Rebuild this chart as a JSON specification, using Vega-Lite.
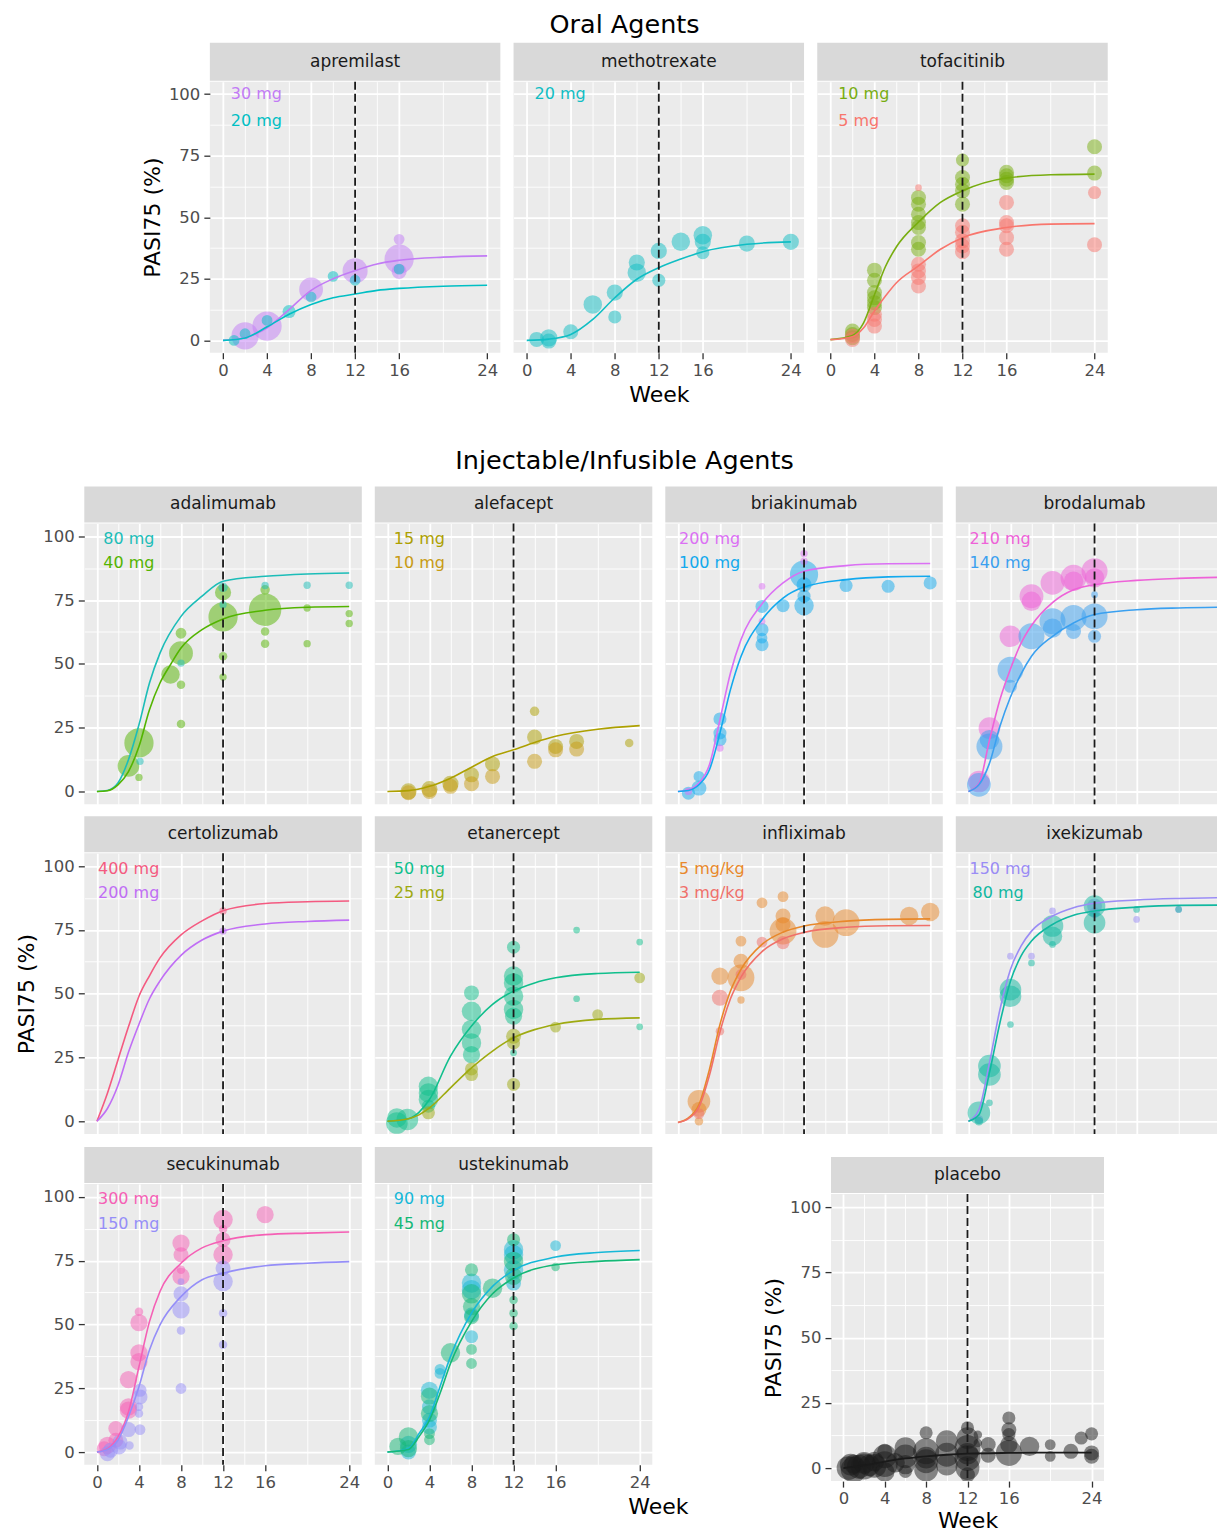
{
"$schema":"https://vega.github.io/schema/vega-lite/v6.json",
"background":"white",
"autosize":{"type":"pad"},
"padding":{"left":15.3,"top":12.7,"right":0,"bottom":0},
"config":{
 "font":"DejaVu Sans",
 "view":{"fill":"#EBEBEB","stroke":null},
 "axis":{"domain":false,"gridColor":"#FFFFFF","tickColor":"#333333","tickSize":6,"tickWidth":1.3,"labelColor":"#4D4D4D","labelFontSize":16.5,"labelFont":"DejaVu Sans","labelPadding":3,"titleFont":"DejaVu Sans","titleFontSize":22,"titleFontWeight":"normal","titleColor":"#000000","titlePadding":4},
 "axisX":{"labelPadding":3.5,"titlePadding":6},
 "axisY":{"labelPadding":4,"titlePadding":4},
 "legend":{"disable":true},
 "title":{"font":"DejaVu Sans","fontSize":25.5,"fontWeight":"normal","color":"#000000","anchor":"middle","offset":8},
 "range":{"category":["#53B400","#1CBDB8","#C89B14","#ADA000","#00BFC4","#C27BF5","#12A9EE","#DB70F4","#3AA0F0","#EE62D8","#C06EF5","#F45A80","#9EAA10","#10BF8C","#F0706A","#E8882A","#9A8CF5","#10B8A0","#10BEC4","#1A1A1A","#958EF8","#F560B5","#78AD10","#F8766D","#14B876","#16B8D8"]}
},
"datasets":{
"pts":[
{"d":"apremilast","g":"apremilast 30 mg","w":2,"p":1.8,"n":82},
{"d":"apremilast","g":"apremilast 30 mg","w":4,"p":5.8,"n":95},
{"d":"apremilast","g":"apremilast 30 mg","w":8,"p":20.7,"n":63},
{"d":"apremilast","g":"apremilast 30 mg","w":12,"p":28.2,"n":70},
{"d":"apremilast","g":"apremilast 30 mg","w":16,"p":33,"n":95},
{"d":"apremilast","g":"apremilast 30 mg","w":16,"p":41,"n":13},
{"d":"apremilast","g":"apremilast 30 mg","w":16,"p":28,"n":25},
{"d":"apremilast","g":"apremilast 20 mg","w":1,"p":0,"n":13},
{"d":"apremilast","g":"apremilast 20 mg","w":2,"p":2.7,"n":13},
{"d":"apremilast","g":"apremilast 20 mg","w":4,"p":8.1,"n":13},
{"d":"apremilast","g":"apremilast 20 mg","w":6,"p":11.7,"n":19},
{"d":"apremilast","g":"apremilast 20 mg","w":8,"p":17.6,"n":13},
{"d":"apremilast","g":"apremilast 20 mg","w":10,"p":26,"n":13},
{"d":"apremilast","g":"apremilast 20 mg","w":12,"p":24.4,"n":13},
{"d":"apremilast","g":"apremilast 20 mg","w":16,"p":28.9,"n":13},
{"d":"methotrexate","g":"methotrexate 20 mg","w":0.9,"p":0.4,"n":25},
{"d":"methotrexate","g":"methotrexate 20 mg","w":2,"p":1,"n":33},
{"d":"methotrexate","g":"methotrexate 20 mg","w":2,"p":-0.3,"n":25},
{"d":"methotrexate","g":"methotrexate 20 mg","w":4,"p":3.5,"n":25},
{"d":"methotrexate","g":"methotrexate 20 mg","w":6,"p":14.6,"n":38},
{"d":"methotrexate","g":"methotrexate 20 mg","w":8,"p":19.4,"n":29},
{"d":"methotrexate","g":"methotrexate 20 mg","w":8,"p":9.5,"n":19},
{"d":"methotrexate","g":"methotrexate 20 mg","w":10,"p":31.6,"n":29},
{"d":"methotrexate","g":"methotrexate 20 mg","w":10,"p":27.5,"n":38},
{"d":"methotrexate","g":"methotrexate 20 mg","w":12,"p":36.3,"n":29},
{"d":"methotrexate","g":"methotrexate 20 mg","w":12,"p":24.4,"n":19},
{"d":"methotrexate","g":"methotrexate 20 mg","w":14,"p":40,"n":38},
{"d":"methotrexate","g":"methotrexate 20 mg","w":16,"p":42.7,"n":38},
{"d":"methotrexate","g":"methotrexate 20 mg","w":16,"p":40,"n":29},
{"d":"methotrexate","g":"methotrexate 20 mg","w":16,"p":35.6,"n":19},
{"d":"methotrexate","g":"methotrexate 20 mg","w":20,"p":39.3,"n":29},
{"d":"methotrexate","g":"methotrexate 20 mg","w":24,"p":40,"n":29},
{"d":"tofacitinib","g":"tofacitinib 10 mg","w":2,"p":2.4,"n":25},
{"d":"tofacitinib","g":"tofacitinib 10 mg","w":2,"p":3.8,"n":25},
{"d":"tofacitinib","g":"tofacitinib 10 mg","w":2,"p":1.1,"n":25},
{"d":"tofacitinib","g":"tofacitinib 10 mg","w":4,"p":28.5,"n":25},
{"d":"tofacitinib","g":"tofacitinib 10 mg","w":4,"p":24.4,"n":25},
{"d":"tofacitinib","g":"tofacitinib 10 mg","w":4,"p":19.4,"n":25},
{"d":"tofacitinib","g":"tofacitinib 10 mg","w":4,"p":17.3,"n":25},
{"d":"tofacitinib","g":"tofacitinib 10 mg","w":4,"p":15.3,"n":25},
{"d":"tofacitinib","g":"tofacitinib 10 mg","w":4,"p":13.3,"n":25},
{"d":"tofacitinib","g":"tofacitinib 10 mg","w":8,"p":58,"n":25},
{"d":"tofacitinib","g":"tofacitinib 10 mg","w":8,"p":55.3,"n":25},
{"d":"tofacitinib","g":"tofacitinib 10 mg","w":8,"p":51.2,"n":25},
{"d":"tofacitinib","g":"tofacitinib 10 mg","w":8,"p":47.8,"n":25},
{"d":"tofacitinib","g":"tofacitinib 10 mg","w":8,"p":45.8,"n":25},
{"d":"tofacitinib","g":"tofacitinib 10 mg","w":8,"p":39.7,"n":25},
{"d":"tofacitinib","g":"tofacitinib 10 mg","w":8,"p":37,"n":25},
{"d":"tofacitinib","g":"tofacitinib 10 mg","w":12,"p":73.2,"n":19},
{"d":"tofacitinib","g":"tofacitinib 10 mg","w":12,"p":66.1,"n":25},
{"d":"tofacitinib","g":"tofacitinib 10 mg","w":12,"p":63.4,"n":25},
{"d":"tofacitinib","g":"tofacitinib 10 mg","w":12,"p":60.7,"n":25},
{"d":"tofacitinib","g":"tofacitinib 10 mg","w":12,"p":55.3,"n":25},
{"d":"tofacitinib","g":"tofacitinib 10 mg","w":16,"p":68.2,"n":25},
{"d":"tofacitinib","g":"tofacitinib 10 mg","w":16,"p":66.8,"n":25},
{"d":"tofacitinib","g":"tofacitinib 10 mg","w":16,"p":65.4,"n":25},
{"d":"tofacitinib","g":"tofacitinib 10 mg","w":16,"p":64.1,"n":25},
{"d":"tofacitinib","g":"tofacitinib 10 mg","w":24,"p":78.6,"n":25},
{"d":"tofacitinib","g":"tofacitinib 10 mg","w":24,"p":67.9,"n":25},
{"d":"tofacitinib","g":"tofacitinib 5 mg","w":2,"p":1.8,"n":25},
{"d":"tofacitinib","g":"tofacitinib 5 mg","w":2,"p":0.4,"n":25},
{"d":"tofacitinib","g":"tofacitinib 5 mg","w":4,"p":10.6,"n":25},
{"d":"tofacitinib","g":"tofacitinib 5 mg","w":4,"p":8.5,"n":25},
{"d":"tofacitinib","g":"tofacitinib 5 mg","w":4,"p":5.8,"n":25},
{"d":"tofacitinib","g":"tofacitinib 5 mg","w":8,"p":62,"n":5},
{"d":"tofacitinib","g":"tofacitinib 5 mg","w":8,"p":30.9,"n":25},
{"d":"tofacitinib","g":"tofacitinib 5 mg","w":8,"p":28.2,"n":25},
{"d":"tofacitinib","g":"tofacitinib 5 mg","w":8,"p":25.5,"n":25},
{"d":"tofacitinib","g":"tofacitinib 5 mg","w":8,"p":22.1,"n":25},
{"d":"tofacitinib","g":"tofacitinib 5 mg","w":12,"p":46.5,"n":25},
{"d":"tofacitinib","g":"tofacitinib 5 mg","w":12,"p":43.9,"n":25},
{"d":"tofacitinib","g":"tofacitinib 5 mg","w":12,"p":40.4,"n":25},
{"d":"tofacitinib","g":"tofacitinib 5 mg","w":12,"p":38.3,"n":25},
{"d":"tofacitinib","g":"tofacitinib 5 mg","w":12,"p":36,"n":25},
{"d":"tofacitinib","g":"tofacitinib 5 mg","w":16,"p":56,"n":25},
{"d":"tofacitinib","g":"tofacitinib 5 mg","w":16,"p":47.8,"n":25},
{"d":"tofacitinib","g":"tofacitinib 5 mg","w":16,"p":46.5,"n":25},
{"d":"tofacitinib","g":"tofacitinib 5 mg","w":16,"p":41.7,"n":25},
{"d":"tofacitinib","g":"tofacitinib 5 mg","w":16,"p":37,"n":25},
{"d":"tofacitinib","g":"tofacitinib 5 mg","w":24,"p":60,"n":19},
{"d":"tofacitinib","g":"tofacitinib 5 mg","w":24,"p":38.8,"n":25},
{"d":"adalimumab","g":"adalimumab 40 mg","w":3,"p":10,"n":52},
{"d":"adalimumab","g":"adalimumab 40 mg","w":4,"p":19,"n":95},
{"d":"adalimumab","g":"adalimumab 40 mg","w":4,"p":5.5,"n":6},
{"d":"adalimumab","g":"adalimumab 40 mg","w":7,"p":45.8,"n":38},
{"d":"adalimumab","g":"adalimumab 40 mg","w":8,"p":54.2,"n":63},
{"d":"adalimumab","g":"adalimumab 40 mg","w":8,"p":62,"n":13},
{"d":"adalimumab","g":"adalimumab 40 mg","w":8,"p":41.8,"n":8},
{"d":"adalimumab","g":"adalimumab 40 mg","w":8,"p":26.4,"n":8},
{"d":"adalimumab","g":"adalimumab 40 mg","w":12,"p":78,"n":29},
{"d":"adalimumab","g":"adalimumab 40 mg","w":12,"p":68.4,"n":95},
{"d":"adalimumab","g":"adalimumab 40 mg","w":12,"p":53,"n":8},
{"d":"adalimumab","g":"adalimumab 40 mg","w":12,"p":44.8,"n":6},
{"d":"adalimumab","g":"adalimumab 40 mg","w":16,"p":71.2,"n":117},
{"d":"adalimumab","g":"adalimumab 40 mg","w":16,"p":79,"n":10},
{"d":"adalimumab","g":"adalimumab 40 mg","w":16,"p":62.7,"n":8},
{"d":"adalimumab","g":"adalimumab 40 mg","w":16,"p":57.9,"n":8},
{"d":"adalimumab","g":"adalimumab 40 mg","w":20,"p":71.9,"n":6},
{"d":"adalimumab","g":"adalimumab 40 mg","w":20,"p":57.9,"n":6},
{"d":"adalimumab","g":"adalimumab 40 mg","w":24,"p":69.7,"n":6},
{"d":"adalimumab","g":"adalimumab 40 mg","w":24,"p":65.8,"n":6},
{"d":"adalimumab","g":"adalimumab 80 mg","w":4.1,"p":11.8,"n":6},
{"d":"adalimumab","g":"adalimumab 80 mg","w":8,"p":50.3,"n":6},
{"d":"adalimumab","g":"adalimumab 80 mg","w":12,"p":80,"n":10},
{"d":"adalimumab","g":"adalimumab 80 mg","w":12,"p":73.2,"n":6},
{"d":"adalimumab","g":"adalimumab 80 mg","w":16,"p":80.7,"n":6},
{"d":"adalimumab","g":"adalimumab 80 mg","w":20,"p":80.8,"n":6},
{"d":"adalimumab","g":"adalimumab 80 mg","w":24,"p":80.8,"n":6},
{"d":"alefacept","g":"alefacept 15 mg","w":2,"p":0,"n":29},
{"d":"alefacept","g":"alefacept 15 mg","w":4,"p":0.9,"n":29},
{"d":"alefacept","g":"alefacept 15 mg","w":6,"p":3,"n":29},
{"d":"alefacept","g":"alefacept 15 mg","w":8,"p":6.5,"n":25},
{"d":"alefacept","g":"alefacept 15 mg","w":10,"p":10.8,"n":25},
{"d":"alefacept","g":"alefacept 15 mg","w":14,"p":31.4,"n":10},
{"d":"alefacept","g":"alefacept 15 mg","w":14,"p":21.3,"n":25},
{"d":"alefacept","g":"alefacept 15 mg","w":16,"p":17.6,"n":25},
{"d":"alefacept","g":"alefacept 15 mg","w":18,"p":19.6,"n":25},
{"d":"alefacept","g":"alefacept 15 mg","w":23,"p":19,"n":8},
{"d":"alefacept","g":"alefacept 10 mg","w":2,"p":-0.5,"n":25},
{"d":"alefacept","g":"alefacept 10 mg","w":4,"p":0,"n":25},
{"d":"alefacept","g":"alefacept 10 mg","w":6,"p":2,"n":25},
{"d":"alefacept","g":"alefacept 10 mg","w":8,"p":3,"n":25},
{"d":"alefacept","g":"alefacept 10 mg","w":10,"p":5.9,"n":25},
{"d":"alefacept","g":"alefacept 10 mg","w":14,"p":11.8,"n":25},
{"d":"alefacept","g":"alefacept 10 mg","w":16,"p":16.3,"n":25},
{"d":"alefacept","g":"alefacept 10 mg","w":18,"p":16.6,"n":25},
{"d":"briakinumab","g":"briakinumab 100 mg","w":1,"p":-0.7,"n":19},
{"d":"briakinumab","g":"briakinumab 100 mg","w":2,"p":1.3,"n":25},
{"d":"briakinumab","g":"briakinumab 100 mg","w":2,"p":5.9,"n":13},
{"d":"briakinumab","g":"briakinumab 100 mg","w":4,"p":28.4,"n":19},
{"d":"briakinumab","g":"briakinumab 100 mg","w":4,"p":22.9,"n":19},
{"d":"briakinumab","g":"briakinumab 100 mg","w":4,"p":20.3,"n":19},
{"d":"briakinumab","g":"briakinumab 100 mg","w":8,"p":72.5,"n":19},
{"d":"briakinumab","g":"briakinumab 100 mg","w":8,"p":63.4,"n":19},
{"d":"briakinumab","g":"briakinumab 100 mg","w":8,"p":60.1,"n":13},
{"d":"briakinumab","g":"briakinumab 100 mg","w":8,"p":57.5,"n":19},
{"d":"briakinumab","g":"briakinumab 100 mg","w":10,"p":72.8,"n":19},
{"d":"briakinumab","g":"briakinumab 100 mg","w":12,"p":85,"n":88},
{"d":"briakinumab","g":"briakinumab 100 mg","w":12,"p":81,"n":25},
{"d":"briakinumab","g":"briakinumab 100 mg","w":12,"p":76.5,"n":19},
{"d":"briakinumab","g":"briakinumab 100 mg","w":12,"p":72.8,"n":42},
{"d":"briakinumab","g":"briakinumab 100 mg","w":16,"p":80.7,"n":19},
{"d":"briakinumab","g":"briakinumab 100 mg","w":20,"p":80.4,"n":19},
{"d":"briakinumab","g":"briakinumab 100 mg","w":24,"p":81.7,"n":19},
{"d":"briakinumab","g":"briakinumab 200 mg","w":1,"p":0,"n":6},
{"d":"briakinumab","g":"briakinumab 200 mg","w":4,"p":17,"n":6},
{"d":"briakinumab","g":"briakinumab 200 mg","w":8,"p":80.4,"n":5},
{"d":"briakinumab","g":"briakinumab 200 mg","w":8,"p":66.7,"n":5},
{"d":"briakinumab","g":"briakinumab 200 mg","w":12,"p":93.2,"n":6},
{"d":"briakinumab","g":"briakinumab 200 mg","w":12,"p":90.2,"n":6},
{"d":"brodalumab","g":"brodalumab 210 mg","w":1,"p":3.9,"n":52},
{"d":"brodalumab","g":"brodalumab 210 mg","w":2,"p":24.8,"n":52},
{"d":"brodalumab","g":"brodalumab 210 mg","w":4,"p":60.8,"n":52},
{"d":"brodalumab","g":"brodalumab 210 mg","w":6,"p":76.5,"n":63},
{"d":"brodalumab","g":"brodalumab 210 mg","w":6,"p":74.5,"n":42},
{"d":"brodalumab","g":"brodalumab 210 mg","w":8,"p":81.7,"n":63},
{"d":"brodalumab","g":"brodalumab 210 mg","w":10,"p":83.7,"n":75},
{"d":"brodalumab","g":"brodalumab 210 mg","w":10,"p":82.4,"n":42},
{"d":"brodalumab","g":"brodalumab 210 mg","w":12,"p":86.3,"n":75},
{"d":"brodalumab","g":"brodalumab 210 mg","w":12,"p":83.7,"n":42},
{"d":"brodalumab","g":"brodalumab 140 mg","w":1,"p":2.6,"n":63},
{"d":"brodalumab","g":"brodalumab 140 mg","w":2,"p":17.6,"n":75},
{"d":"brodalumab","g":"brodalumab 140 mg","w":2,"p":20.3,"n":42},
{"d":"brodalumab","g":"brodalumab 140 mg","w":4,"p":47.7,"n":75},
{"d":"brodalumab","g":"brodalumab 140 mg","w":4,"p":41.2,"n":19},
{"d":"brodalumab","g":"brodalumab 140 mg","w":6,"p":60.8,"n":75},
{"d":"brodalumab","g":"brodalumab 140 mg","w":8,"p":66.7,"n":75},
{"d":"brodalumab","g":"brodalumab 140 mg","w":8,"p":64,"n":42},
{"d":"brodalumab","g":"brodalumab 140 mg","w":10,"p":68,"n":75},
{"d":"brodalumab","g":"brodalumab 140 mg","w":10,"p":62.7,"n":25},
{"d":"brodalumab","g":"brodalumab 140 mg","w":12,"p":68.6,"n":75},
{"d":"brodalumab","g":"brodalumab 140 mg","w":12,"p":77.1,"n":5},
{"d":"brodalumab","g":"brodalumab 140 mg","w":12,"p":60.8,"n":19},
{"d":"certolizumab","g":"certolizumab 400 mg","w":12,"p":82.4,"n":6},
{"d":"certolizumab","g":"certolizumab 200 mg","w":12,"p":74.5,"n":6},
{"d":"etanercept","g":"etanercept 50 mg","w":0.9,"p":-0.7,"n":52},
{"d":"etanercept","g":"etanercept 50 mg","w":1.9,"p":0.7,"n":52},
{"d":"etanercept","g":"etanercept 50 mg","w":0.9,"p":1.3,"n":42},
{"d":"etanercept","g":"etanercept 50 mg","w":3.9,"p":13.7,"n":42},
{"d":"etanercept","g":"etanercept 50 mg","w":3.9,"p":11.1,"n":42},
{"d":"etanercept","g":"etanercept 50 mg","w":3.9,"p":8.5,"n":42},
{"d":"etanercept","g":"etanercept 50 mg","w":3.9,"p":5.9,"n":19},
{"d":"etanercept","g":"etanercept 50 mg","w":8,"p":50.3,"n":25},
{"d":"etanercept","g":"etanercept 50 mg","w":8,"p":43.1,"n":42},
{"d":"etanercept","g":"etanercept 50 mg","w":8,"p":36,"n":42},
{"d":"etanercept","g":"etanercept 50 mg","w":8,"p":30.7,"n":42},
{"d":"etanercept","g":"etanercept 50 mg","w":8,"p":26.1,"n":33},
{"d":"etanercept","g":"etanercept 50 mg","w":12,"p":68.2,"n":19},
{"d":"etanercept","g":"etanercept 50 mg","w":12,"p":56.9,"n":42},
{"d":"etanercept","g":"etanercept 50 mg","w":12,"p":54.2,"n":42},
{"d":"etanercept","g":"etanercept 50 mg","w":12,"p":49,"n":42},
{"d":"etanercept","g":"etanercept 50 mg","w":12,"p":43.8,"n":42},
{"d":"etanercept","g":"etanercept 50 mg","w":12,"p":41.2,"n":33},
{"d":"etanercept","g":"etanercept 50 mg","w":12,"p":26.8,"n":5},
{"d":"etanercept","g":"etanercept 50 mg","w":18,"p":74.9,"n":5},
{"d":"etanercept","g":"etanercept 50 mg","w":18,"p":48,"n":5},
{"d":"etanercept","g":"etanercept 50 mg","w":24,"p":70.2,"n":5},
{"d":"etanercept","g":"etanercept 50 mg","w":24,"p":37,"n":5},
{"d":"etanercept","g":"etanercept 25 mg","w":3.9,"p":3.3,"n":19},
{"d":"etanercept","g":"etanercept 25 mg","w":8,"p":20.5,"n":19},
{"d":"etanercept","g":"etanercept 25 mg","w":8,"p":18.3,"n":19},
{"d":"etanercept","g":"etanercept 25 mg","w":12,"p":33.3,"n":25},
{"d":"etanercept","g":"etanercept 25 mg","w":12,"p":30.7,"n":19},
{"d":"etanercept","g":"etanercept 25 mg","w":12,"p":14.4,"n":19},
{"d":"etanercept","g":"etanercept 25 mg","w":16,"p":36.9,"n":13},
{"d":"etanercept","g":"etanercept 25 mg","w":20,"p":41.8,"n":13},
{"d":"etanercept","g":"etanercept 25 mg","w":24,"p":56.2,"n":13},
{"d":"infliximab","g":"infliximab 5 mg/kg","w":2,"p":7.8,"n":57},
{"d":"infliximab","g":"infliximab 5 mg/kg","w":2,"p":4.6,"n":25},
{"d":"infliximab","g":"infliximab 5 mg/kg","w":2,"p":0,"n":8},
{"d":"infliximab","g":"infliximab 5 mg/kg","w":4,"p":56.9,"n":33},
{"d":"infliximab","g":"infliximab 5 mg/kg","w":6,"p":70.6,"n":13},
{"d":"infliximab","g":"infliximab 5 mg/kg","w":6,"p":62.7,"n":25},
{"d":"infliximab","g":"infliximab 5 mg/kg","w":6,"p":56.2,"n":80},
{"d":"infliximab","g":"infliximab 5 mg/kg","w":6,"p":47.5,"n":6},
{"d":"infliximab","g":"infliximab 5 mg/kg","w":8,"p":85.6,"n":13},
{"d":"infliximab","g":"infliximab 5 mg/kg","w":10,"p":88,"n":13},
{"d":"infliximab","g":"infliximab 5 mg/kg","w":10,"p":80.4,"n":25},
{"d":"infliximab","g":"infliximab 5 mg/kg","w":10,"p":77.1,"n":25},
{"d":"infliximab","g":"infliximab 5 mg/kg","w":10,"p":74.5,"n":80},
{"d":"infliximab","g":"infliximab 5 mg/kg","w":14,"p":80.4,"n":42},
{"d":"infliximab","g":"infliximab 5 mg/kg","w":14,"p":73.2,"n":80},
{"d":"infliximab","g":"infliximab 5 mg/kg","w":16,"p":77.8,"n":80},
{"d":"infliximab","g":"infliximab 5 mg/kg","w":22,"p":80.4,"n":38},
{"d":"infliximab","g":"infliximab 5 mg/kg","w":24,"p":82,"n":38},
{"d":"infliximab","g":"infliximab 3 mg/kg","w":2,"p":3,"n":13},
{"d":"infliximab","g":"infliximab 3 mg/kg","w":4,"p":48.4,"n":29},
{"d":"infliximab","g":"infliximab 3 mg/kg","w":4,"p":35.3,"n":8},
{"d":"infliximab","g":"infliximab 3 mg/kg","w":6,"p":57.5,"n":13},
{"d":"infliximab","g":"infliximab 3 mg/kg","w":8,"p":70.2,"n":13},
{"d":"infliximab","g":"infliximab 3 mg/kg","w":10,"p":70,"n":19},
{"d":"ixekizumab","g":"ixekizumab 150 mg","w":1,"p":0.7,"n":8},
{"d":"ixekizumab","g":"ixekizumab 150 mg","w":4,"p":64.7,"n":5},
{"d":"ixekizumab","g":"ixekizumab 150 mg","w":6,"p":64.7,"n":5},
{"d":"ixekizumab","g":"ixekizumab 150 mg","w":8,"p":82.4,"n":5},
{"d":"ixekizumab","g":"ixekizumab 150 mg","w":12,"p":84.3,"n":25},
{"d":"ixekizumab","g":"ixekizumab 150 mg","w":12,"p":81.7,"n":13},
{"d":"ixekizumab","g":"ixekizumab 150 mg","w":16,"p":79.1,"n":5},
{"d":"ixekizumab","g":"ixekizumab 150 mg","w":20,"p":83,"n":5},
{"d":"ixekizumab","g":"ixekizumab 80 mg","w":1,"p":3.3,"n":57},
{"d":"ixekizumab","g":"ixekizumab 80 mg","w":1,"p":0,"n":8},
{"d":"ixekizumab","g":"ixekizumab 80 mg","w":2,"p":21.6,"n":57},
{"d":"ixekizumab","g":"ixekizumab 80 mg","w":2,"p":18.3,"n":57},
{"d":"ixekizumab","g":"ixekizumab 80 mg","w":2,"p":7.2,"n":5},
{"d":"ixekizumab","g":"ixekizumab 80 mg","w":4,"p":51.6,"n":52},
{"d":"ixekizumab","g":"ixekizumab 80 mg","w":4,"p":49,"n":52},
{"d":"ixekizumab","g":"ixekizumab 80 mg","w":4,"p":37.9,"n":5},
{"d":"ixekizumab","g":"ixekizumab 80 mg","w":6,"p":62,"n":5},
{"d":"ixekizumab","g":"ixekizumab 80 mg","w":8,"p":76.5,"n":52},
{"d":"ixekizumab","g":"ixekizumab 80 mg","w":8,"p":72.5,"n":42},
{"d":"ixekizumab","g":"ixekizumab 80 mg","w":8,"p":69.3,"n":5},
{"d":"ixekizumab","g":"ixekizumab 80 mg","w":12,"p":84.3,"n":52},
{"d":"ixekizumab","g":"ixekizumab 80 mg","w":12,"p":77.8,"n":52},
{"d":"ixekizumab","g":"ixekizumab 80 mg","w":16,"p":83,"n":5},
{"d":"ixekizumab","g":"ixekizumab 80 mg","w":20,"p":83,"n":5},
{"d":"secukinumab","g":"secukinumab 300 mg","w":0.7,"p":1.3,"n":25},
{"d":"secukinumab","g":"secukinumab 300 mg","w":1,"p":2.6,"n":33},
{"d":"secukinumab","g":"secukinumab 300 mg","w":1.8,"p":4.6,"n":25},
{"d":"secukinumab","g":"secukinumab 300 mg","w":1.8,"p":9.2,"n":25},
{"d":"secukinumab","g":"secukinumab 300 mg","w":3,"p":28.4,"n":33},
{"d":"secukinumab","g":"secukinumab 300 mg","w":3,"p":17.7,"n":33},
{"d":"secukinumab","g":"secukinumab 300 mg","w":3,"p":16.4,"n":33},
{"d":"secukinumab","g":"secukinumab 300 mg","w":4,"p":55,"n":8},
{"d":"secukinumab","g":"secukinumab 300 mg","w":4,"p":50.7,"n":33},
{"d":"secukinumab","g":"secukinumab 300 mg","w":4,"p":38.9,"n":33},
{"d":"secukinumab","g":"secukinumab 300 mg","w":4,"p":35.4,"n":33},
{"d":"secukinumab","g":"secukinumab 300 mg","w":8,"p":81.9,"n":33},
{"d":"secukinumab","g":"secukinumab 300 mg","w":8,"p":77.3,"n":25},
{"d":"secukinumab","g":"secukinumab 300 mg","w":8,"p":68.8,"n":33},
{"d":"secukinumab","g":"secukinumab 300 mg","w":8,"p":71.4,"n":8},
{"d":"secukinumab","g":"secukinumab 300 mg","w":12,"p":91.1,"n":42},
{"d":"secukinumab","g":"secukinumab 300 mg","w":12,"p":87.4,"n":8},
{"d":"secukinumab","g":"secukinumab 300 mg","w":12,"p":83.2,"n":25},
{"d":"secukinumab","g":"secukinumab 300 mg","w":12,"p":77.3,"n":42},
{"d":"secukinumab","g":"secukinumab 300 mg","w":16,"p":93,"n":33},
{"d":"secukinumab","g":"secukinumab 150 mg","w":1,"p":-0.7,"n":25},
{"d":"secukinumab","g":"secukinumab 150 mg","w":1.3,"p":0.7,"n":25},
{"d":"secukinumab","g":"secukinumab 150 mg","w":2.1,"p":2,"n":25},
{"d":"secukinumab","g":"secukinumab 150 mg","w":2.2,"p":3.9,"n":25},
{"d":"secukinumab","g":"secukinumab 150 mg","w":3,"p":8.8,"n":25},
{"d":"secukinumab","g":"secukinumab 150 mg","w":3.1,"p":2.6,"n":8},
{"d":"secukinumab","g":"secukinumab 150 mg","w":4.1,"p":8.8,"n":13},
{"d":"secukinumab","g":"secukinumab 150 mg","w":4,"p":15.1,"n":8},
{"d":"secukinumab","g":"secukinumab 150 mg","w":4,"p":17.7,"n":8},
{"d":"secukinumab","g":"secukinumab 150 mg","w":4.1,"p":21.6,"n":25},
{"d":"secukinumab","g":"secukinumab 150 mg","w":4.1,"p":24.2,"n":19},
{"d":"secukinumab","g":"secukinumab 150 mg","w":8,"p":24.9,"n":13},
{"d":"secukinumab","g":"secukinumab 150 mg","w":8,"p":47.6,"n":8},
{"d":"secukinumab","g":"secukinumab 150 mg","w":8,"p":55.7,"n":33},
{"d":"secukinumab","g":"secukinumab 150 mg","w":8,"p":62,"n":25},
{"d":"secukinumab","g":"secukinumab 150 mg","w":8,"p":66.8,"n":5},
{"d":"secukinumab","g":"secukinumab 150 mg","w":12,"p":42,"n":8},
{"d":"secukinumab","g":"secukinumab 150 mg","w":12,"p":54.4,"n":8},
{"d":"secukinumab","g":"secukinumab 150 mg","w":12,"p":66.8,"n":42},
{"d":"secukinumab","g":"secukinumab 150 mg","w":12,"p":72.1,"n":25},
{"d":"ustekinumab","g":"ustekinumab 90 mg","w":2,"p":3,"n":33},
{"d":"ustekinumab","g":"ustekinumab 90 mg","w":2,"p":0,"n":25},
{"d":"ustekinumab","g":"ustekinumab 90 mg","w":4,"p":24.2,"n":33},
{"d":"ustekinumab","g":"ustekinumab 90 mg","w":4,"p":17.7,"n":25},
{"d":"ustekinumab","g":"ustekinumab 90 mg","w":4,"p":12.5,"n":25},
{"d":"ustekinumab","g":"ustekinumab 90 mg","w":4,"p":9.8,"n":25},
{"d":"ustekinumab","g":"ustekinumab 90 mg","w":5,"p":32.4,"n":13},
{"d":"ustekinumab","g":"ustekinumab 90 mg","w":5,"p":30.8,"n":13},
{"d":"ustekinumab","g":"ustekinumab 90 mg","w":8,"p":66.2,"n":42},
{"d":"ustekinumab","g":"ustekinumab 90 mg","w":8,"p":63.6,"n":42},
{"d":"ustekinumab","g":"ustekinumab 90 mg","w":8,"p":53.7,"n":25},
{"d":"ustekinumab","g":"ustekinumab 90 mg","w":8,"p":45.2,"n":19},
{"d":"ustekinumab","g":"ustekinumab 90 mg","w":12,"p":79.3,"n":42},
{"d":"ustekinumab","g":"ustekinumab 90 mg","w":12,"p":77.3,"n":42},
{"d":"ustekinumab","g":"ustekinumab 90 mg","w":12,"p":71.4,"n":42},
{"d":"ustekinumab","g":"ustekinumab 90 mg","w":12,"p":66.2,"n":25},
{"d":"ustekinumab","g":"ustekinumab 90 mg","w":16,"p":80.9,"n":13},
{"d":"ustekinumab","g":"ustekinumab 45 mg","w":1,"p":2.2,"n":33},
{"d":"ustekinumab","g":"ustekinumab 45 mg","w":2,"p":5.9,"n":42},
{"d":"ustekinumab","g":"ustekinumab 45 mg","w":2,"p":1.3,"n":33},
{"d":"ustekinumab","g":"ustekinumab 45 mg","w":4,"p":21.9,"n":33},
{"d":"ustekinumab","g":"ustekinumab 45 mg","w":4,"p":15.1,"n":33},
{"d":"ustekinumab","g":"ustekinumab 45 mg","w":4,"p":7.2,"n":13},
{"d":"ustekinumab","g":"ustekinumab 45 mg","w":4,"p":4.8,"n":13},
{"d":"ustekinumab","g":"ustekinumab 45 mg","w":6,"p":38.9,"n":42},
{"d":"ustekinumab","g":"ustekinumab 45 mg","w":8,"p":71.4,"n":19},
{"d":"ustekinumab","g":"ustekinumab 45 mg","w":8,"p":62,"n":42},
{"d":"ustekinumab","g":"ustekinumab 45 mg","w":8,"p":57,"n":33},
{"d":"ustekinumab","g":"ustekinumab 45 mg","w":8,"p":53,"n":25},
{"d":"ustekinumab","g":"ustekinumab 45 mg","w":8,"p":40.2,"n":13},
{"d":"ustekinumab","g":"ustekinumab 45 mg","w":8,"p":34.7,"n":13},
{"d":"ustekinumab","g":"ustekinumab 45 mg","w":10,"p":64.2,"n":42},
{"d":"ustekinumab","g":"ustekinumab 45 mg","w":12,"p":83.2,"n":19},
{"d":"ustekinumab","g":"ustekinumab 45 mg","w":12,"p":74.7,"n":42},
{"d":"ustekinumab","g":"ustekinumab 45 mg","w":12,"p":68.8,"n":33},
{"d":"ustekinumab","g":"ustekinumab 45 mg","w":12,"p":59.6,"n":8},
{"d":"ustekinumab","g":"ustekinumab 45 mg","w":12,"p":54.4,"n":8},
{"d":"ustekinumab","g":"ustekinumab 45 mg","w":12,"p":49.4,"n":8},
{"d":"ustekinumab","g":"ustekinumab 45 mg","w":16,"p":72.5,"n":8},
{"d":"placebo","g":"placebo","w":0.5,"p":0,"n":63},
{"d":"placebo","g":"placebo","w":0.7,"p":1.3,"n":52},
{"d":"placebo","g":"placebo","w":1,"p":-0.6,"n":75},
{"d":"placebo","g":"placebo","w":1,"p":1.5,"n":42},
{"d":"placebo","g":"placebo","w":1.5,"p":0.5,"n":63},
{"d":"placebo","g":"placebo","w":2,"p":0.6,"n":75},
{"d":"placebo","g":"placebo","w":2,"p":2,"n":52},
{"d":"placebo","g":"placebo","w":2.5,"p":1,"n":52},
{"d":"placebo","g":"placebo","w":3,"p":0.8,"n":63},
{"d":"placebo","g":"placebo","w":3,"p":2.5,"n":42},
{"d":"placebo","g":"placebo","w":4,"p":1.5,"n":75},
{"d":"placebo","g":"placebo","w":4,"p":4.5,"n":63},
{"d":"placebo","g":"placebo","w":4,"p":6.4,"n":25},
{"d":"placebo","g":"placebo","w":4,"p":-1.5,"n":42},
{"d":"placebo","g":"placebo","w":5,"p":2,"n":42},
{"d":"placebo","g":"placebo","w":6,"p":7.7,"n":52},
{"d":"placebo","g":"placebo","w":6,"p":4.5,"n":63},
{"d":"placebo","g":"placebo","w":6,"p":1.3,"n":42},
{"d":"placebo","g":"placebo","w":6,"p":-1.3,"n":19},
{"d":"placebo","g":"placebo","w":8,"p":13.5,"n":19},
{"d":"placebo","g":"placebo","w":8,"p":6.4,"n":75},
{"d":"placebo","g":"placebo","w":8,"p":2.6,"n":63},
{"d":"placebo","g":"placebo","w":8,"p":-0.6,"n":63},
{"d":"placebo","g":"placebo","w":8,"p":4,"n":52},
{"d":"placebo","g":"placebo","w":10,"p":10.3,"n":52},
{"d":"placebo","g":"placebo","w":10,"p":5.1,"n":63},
{"d":"placebo","g":"placebo","w":10,"p":1.3,"n":52},
{"d":"placebo","g":"placebo","w":12,"p":15.4,"n":19},
{"d":"placebo","g":"placebo","w":12,"p":11.5,"n":52},
{"d":"placebo","g":"placebo","w":12,"p":7.7,"n":75},
{"d":"placebo","g":"placebo","w":12,"p":3.8,"n":75},
{"d":"placebo","g":"placebo","w":12,"p":0,"n":63},
{"d":"placebo","g":"placebo","w":12,"p":-2.6,"n":25},
{"d":"placebo","g":"placebo","w":12,"p":5.5,"n":52},
{"d":"placebo","g":"placebo","w":13,"p":9.6,"n":8},
{"d":"placebo","g":"placebo","w":13,"p":12.8,"n":8},
{"d":"placebo","g":"placebo","w":14,"p":9,"n":25},
{"d":"placebo","g":"placebo","w":14,"p":4.9,"n":25},
{"d":"placebo","g":"placebo","w":16,"p":19.2,"n":19},
{"d":"placebo","g":"placebo","w":16,"p":14.7,"n":25},
{"d":"placebo","g":"placebo","w":16,"p":12.8,"n":19},
{"d":"placebo","g":"placebo","w":16,"p":9,"n":33},
{"d":"placebo","g":"placebo","w":16,"p":5.8,"n":75},
{"d":"placebo","g":"placebo","w":18,"p":8.3,"n":42},
{"d":"placebo","g":"placebo","w":20,"p":9,"n":13},
{"d":"placebo","g":"placebo","w":20,"p":4.5,"n":13},
{"d":"placebo","g":"placebo","w":22,"p":6.4,"n":25},
{"d":"placebo","g":"placebo","w":23,"p":11.5,"n":19},
{"d":"placebo","g":"placebo","w":24,"p":13.1,"n":19},
{"d":"placebo","g":"placebo","w":24,"p":5.8,"n":25},
{"d":"placebo","g":"placebo","w":24,"p":4.5,"n":25}
],
"crv":[
{"d":"apremilast","g":"apremilast 30 mg","w":0,"p":0},{"d":"apremilast","g":"apremilast 30 mg","w":2,"p":1.1},{"d":"apremilast","g":"apremilast 30 mg","w":4,"p":5.1},{"d":"apremilast","g":"apremilast 30 mg","w":6,"p":12.5},{"d":"apremilast","g":"apremilast 30 mg","w":8,"p":20.3},{"d":"apremilast","g":"apremilast 30 mg","w":10,"p":25},{"d":"apremilast","g":"apremilast 30 mg","w":12,"p":28.3},{"d":"apremilast","g":"apremilast 30 mg","w":14,"p":31},{"d":"apremilast","g":"apremilast 30 mg","w":16,"p":32.5},{"d":"apremilast","g":"apremilast 30 mg","w":20,"p":33.8},{"d":"apremilast","g":"apremilast 30 mg","w":24,"p":34.3},
{"d":"apremilast","g":"apremilast 20 mg","w":0,"p":0},{"d":"apremilast","g":"apremilast 20 mg","w":2,"p":1},{"d":"apremilast","g":"apremilast 20 mg","w":4,"p":5.5},{"d":"apremilast","g":"apremilast 20 mg","w":6,"p":10.6},{"d":"apremilast","g":"apremilast 20 mg","w":8,"p":14.6},{"d":"apremilast","g":"apremilast 20 mg","w":10,"p":17.3},{"d":"apremilast","g":"apremilast 20 mg","w":12,"p":18.8},{"d":"apremilast","g":"apremilast 20 mg","w":14,"p":20.3},{"d":"apremilast","g":"apremilast 20 mg","w":16,"p":21.1},{"d":"apremilast","g":"apremilast 20 mg","w":20,"p":22},{"d":"apremilast","g":"apremilast 20 mg","w":24,"p":22.4},
{"d":"methotrexate","g":"methotrexate 20 mg","w":0,"p":0},{"d":"methotrexate","g":"methotrexate 20 mg","w":2,"p":0.5},{"d":"methotrexate","g":"methotrexate 20 mg","w":4,"p":2.4},{"d":"methotrexate","g":"methotrexate 20 mg","w":6,"p":8.5},{"d":"methotrexate","g":"methotrexate 20 mg","w":8,"p":17.3},{"d":"methotrexate","g":"methotrexate 20 mg","w":10,"p":24.8},{"d":"methotrexate","g":"methotrexate 20 mg","w":12,"p":29.5},{"d":"methotrexate","g":"methotrexate 20 mg","w":14,"p":33},{"d":"methotrexate","g":"methotrexate 20 mg","w":16,"p":36},{"d":"methotrexate","g":"methotrexate 20 mg","w":20,"p":39},{"d":"methotrexate","g":"methotrexate 20 mg","w":24,"p":40},
{"d":"tofacitinib","g":"tofacitinib 10 mg","w":0,"p":0.3},{"d":"tofacitinib","g":"tofacitinib 10 mg","w":2,"p":2},{"d":"tofacitinib","g":"tofacitinib 10 mg","w":3,"p":7},{"d":"tofacitinib","g":"tofacitinib 10 mg","w":4,"p":18.5},{"d":"tofacitinib","g":"tofacitinib 10 mg","w":5,"p":30},{"d":"tofacitinib","g":"tofacitinib 10 mg","w":6,"p":38},{"d":"tofacitinib","g":"tofacitinib 10 mg","w":8,"p":48},{"d":"tofacitinib","g":"tofacitinib 10 mg","w":10,"p":56},{"d":"tofacitinib","g":"tofacitinib 10 mg","w":12,"p":60.7},{"d":"tofacitinib","g":"tofacitinib 10 mg","w":16,"p":65.9},{"d":"tofacitinib","g":"tofacitinib 10 mg","w":20,"p":67.2},{"d":"tofacitinib","g":"tofacitinib 10 mg","w":24,"p":67.5},
{"d":"tofacitinib","g":"tofacitinib 5 mg","w":0,"p":0.3},{"d":"tofacitinib","g":"tofacitinib 5 mg","w":2,"p":1.5},{"d":"tofacitinib","g":"tofacitinib 5 mg","w":3,"p":5},{"d":"tofacitinib","g":"tofacitinib 5 mg","w":4,"p":11.9},{"d":"tofacitinib","g":"tofacitinib 5 mg","w":5,"p":18},{"d":"tofacitinib","g":"tofacitinib 5 mg","w":6,"p":23.4},{"d":"tofacitinib","g":"tofacitinib 5 mg","w":8,"p":30.2},{"d":"tofacitinib","g":"tofacitinib 5 mg","w":10,"p":37},{"d":"tofacitinib","g":"tofacitinib 5 mg","w":12,"p":41.7},{"d":"tofacitinib","g":"tofacitinib 5 mg","w":16,"p":45.8},{"d":"tofacitinib","g":"tofacitinib 5 mg","w":20,"p":47.2},{"d":"tofacitinib","g":"tofacitinib 5 mg","w":24,"p":47.4},
{"d":"adalimumab","g":"adalimumab 80 mg","w":0,"p":0},{"d":"adalimumab","g":"adalimumab 80 mg","w":1,"p":0.4},{"d":"adalimumab","g":"adalimumab 80 mg","w":2,"p":3.3},{"d":"adalimumab","g":"adalimumab 80 mg","w":3,"p":12.4},{"d":"adalimumab","g":"adalimumab 80 mg","w":4,"p":26.1},{"d":"adalimumab","g":"adalimumab 80 mg","w":5,"p":42.5},{"d":"adalimumab","g":"adalimumab 80 mg","w":6,"p":54.2},{"d":"adalimumab","g":"adalimumab 80 mg","w":8,"p":68.6},{"d":"adalimumab","g":"adalimumab 80 mg","w":10,"p":76.5},{"d":"adalimumab","g":"adalimumab 80 mg","w":12,"p":82.4},{"d":"adalimumab","g":"adalimumab 80 mg","w":16,"p":84.3},{"d":"adalimumab","g":"adalimumab 80 mg","w":20,"p":85.2},{"d":"adalimumab","g":"adalimumab 80 mg","w":24,"p":85.6},
{"d":"adalimumab","g":"adalimumab 40 mg","w":0,"p":0},{"d":"adalimumab","g":"adalimumab 40 mg","w":1,"p":0.3},{"d":"adalimumab","g":"adalimumab 40 mg","w":2,"p":2.6},{"d":"adalimumab","g":"adalimumab 40 mg","w":3,"p":7.8},{"d":"adalimumab","g":"adalimumab 40 mg","w":4,"p":17.6},{"d":"adalimumab","g":"adalimumab 40 mg","w":5,"p":32},{"d":"adalimumab","g":"adalimumab 40 mg","w":6,"p":42.5},{"d":"adalimumab","g":"adalimumab 40 mg","w":7,"p":49.7},{"d":"adalimumab","g":"adalimumab 40 mg","w":8,"p":56.2},{"d":"adalimumab","g":"adalimumab 40 mg","w":10,"p":63.4},{"d":"adalimumab","g":"adalimumab 40 mg","w":12,"p":67.6},{"d":"adalimumab","g":"adalimumab 40 mg","w":16,"p":71},{"d":"adalimumab","g":"adalimumab 40 mg","w":20,"p":72.2},{"d":"adalimumab","g":"adalimumab 40 mg","w":24,"p":72.5},
{"d":"alefacept","g":"alefacept 15 mg","w":0,"p":0},{"d":"alefacept","g":"alefacept 15 mg","w":2,"p":0.3},{"d":"alefacept","g":"alefacept 15 mg","w":4,"p":2},{"d":"alefacept","g":"alefacept 15 mg","w":6,"p":5.2},{"d":"alefacept","g":"alefacept 15 mg","w":8,"p":9.5},{"d":"alefacept","g":"alefacept 15 mg","w":10,"p":13.7},{"d":"alefacept","g":"alefacept 15 mg","w":12,"p":16.3},{"d":"alefacept","g":"alefacept 15 mg","w":14,"p":19.2},{"d":"alefacept","g":"alefacept 15 mg","w":16,"p":21.6},{"d":"alefacept","g":"alefacept 15 mg","w":20,"p":24.4},{"d":"alefacept","g":"alefacept 15 mg","w":24,"p":25.8},
{"d":"briakinumab","g":"briakinumab 200 mg","w":0,"p":0},{"d":"briakinumab","g":"briakinumab 200 mg","w":1,"p":0.7},{"d":"briakinumab","g":"briakinumab 200 mg","w":2,"p":3.3},{"d":"briakinumab","g":"briakinumab 200 mg","w":3,"p":10.5},{"d":"briakinumab","g":"briakinumab 200 mg","w":4,"p":28.1},{"d":"briakinumab","g":"briakinumab 200 mg","w":5,"p":46.4},{"d":"briakinumab","g":"briakinumab 200 mg","w":6,"p":59.5},{"d":"briakinumab","g":"briakinumab 200 mg","w":8,"p":73.5},{"d":"briakinumab","g":"briakinumab 200 mg","w":10,"p":81.7},{"d":"briakinumab","g":"briakinumab 200 mg","w":12,"p":86.3},{"d":"briakinumab","g":"briakinumab 200 mg","w":16,"p":88.5},{"d":"briakinumab","g":"briakinumab 200 mg","w":20,"p":89.2},{"d":"briakinumab","g":"briakinumab 200 mg","w":24,"p":89.3},
{"d":"briakinumab","g":"briakinumab 100 mg","w":0,"p":0},{"d":"briakinumab","g":"briakinumab 100 mg","w":1,"p":0.4},{"d":"briakinumab","g":"briakinumab 100 mg","w":2,"p":2.6},{"d":"briakinumab","g":"briakinumab 100 mg","w":3,"p":8.5},{"d":"briakinumab","g":"briakinumab 100 mg","w":4,"p":22.9},{"d":"briakinumab","g":"briakinumab 100 mg","w":5,"p":39.9},{"d":"briakinumab","g":"briakinumab 100 mg","w":6,"p":52.9},{"d":"briakinumab","g":"briakinumab 100 mg","w":8,"p":67.3},{"d":"briakinumab","g":"briakinumab 100 mg","w":10,"p":75.8},{"d":"briakinumab","g":"briakinumab 100 mg","w":12,"p":80.1},{"d":"briakinumab","g":"briakinumab 100 mg","w":16,"p":83},{"d":"briakinumab","g":"briakinumab 100 mg","w":20,"p":84.1},{"d":"briakinumab","g":"briakinumab 100 mg","w":24,"p":84.3},
{"d":"brodalumab","g":"brodalumab 210 mg","w":0,"p":0},{"d":"brodalumab","g":"brodalumab 210 mg","w":1,"p":3},{"d":"brodalumab","g":"brodalumab 210 mg","w":2,"p":20},{"d":"brodalumab","g":"brodalumab 210 mg","w":3,"p":36},{"d":"brodalumab","g":"brodalumab 210 mg","w":4,"p":48},{"d":"brodalumab","g":"brodalumab 210 mg","w":5,"p":58},{"d":"brodalumab","g":"brodalumab 210 mg","w":6,"p":65},{"d":"brodalumab","g":"brodalumab 210 mg","w":8,"p":74},{"d":"brodalumab","g":"brodalumab 210 mg","w":10,"p":79},{"d":"brodalumab","g":"brodalumab 210 mg","w":12,"p":81},{"d":"brodalumab","g":"brodalumab 210 mg","w":16,"p":82.7},{"d":"brodalumab","g":"brodalumab 210 mg","w":20,"p":83.5},{"d":"brodalumab","g":"brodalumab 210 mg","w":24,"p":83.9},
{"d":"brodalumab","g":"brodalumab 140 mg","w":0,"p":0},{"d":"brodalumab","g":"brodalumab 140 mg","w":1,"p":2.6},{"d":"brodalumab","g":"brodalumab 140 mg","w":2,"p":11},{"d":"brodalumab","g":"brodalumab 140 mg","w":3,"p":25.5},{"d":"brodalumab","g":"brodalumab 140 mg","w":4,"p":37},{"d":"brodalumab","g":"brodalumab 140 mg","w":5,"p":46},{"d":"brodalumab","g":"brodalumab 140 mg","w":6,"p":53},{"d":"brodalumab","g":"brodalumab 140 mg","w":8,"p":60.8},{"d":"brodalumab","g":"brodalumab 140 mg","w":10,"p":66},{"d":"brodalumab","g":"brodalumab 140 mg","w":12,"p":69.3},{"d":"brodalumab","g":"brodalumab 140 mg","w":16,"p":71.2},{"d":"brodalumab","g":"brodalumab 140 mg","w":20,"p":71.9},{"d":"brodalumab","g":"brodalumab 140 mg","w":24,"p":72.2},
{"d":"certolizumab","g":"certolizumab 400 mg","w":0,"p":0},{"d":"certolizumab","g":"certolizumab 400 mg","w":1,"p":11},{"d":"certolizumab","g":"certolizumab 400 mg","w":2,"p":24},{"d":"certolizumab","g":"certolizumab 400 mg","w":3,"p":37},{"d":"certolizumab","g":"certolizumab 400 mg","w":4,"p":49},{"d":"certolizumab","g":"certolizumab 400 mg","w":5,"p":57},{"d":"certolizumab","g":"certolizumab 400 mg","w":6,"p":64},{"d":"certolizumab","g":"certolizumab 400 mg","w":8,"p":73},{"d":"certolizumab","g":"certolizumab 400 mg","w":10,"p":78.5},{"d":"certolizumab","g":"certolizumab 400 mg","w":12,"p":82.5},{"d":"certolizumab","g":"certolizumab 400 mg","w":16,"p":85.3},{"d":"certolizumab","g":"certolizumab 400 mg","w":20,"p":86},{"d":"certolizumab","g":"certolizumab 400 mg","w":24,"p":86.3},
{"d":"certolizumab","g":"certolizumab 200 mg","w":0,"p":0},{"d":"certolizumab","g":"certolizumab 200 mg","w":1,"p":5},{"d":"certolizumab","g":"certolizumab 200 mg","w":2,"p":14},{"d":"certolizumab","g":"certolizumab 200 mg","w":3,"p":27},{"d":"certolizumab","g":"certolizumab 200 mg","w":4,"p":38},{"d":"certolizumab","g":"certolizumab 200 mg","w":5,"p":48},{"d":"certolizumab","g":"certolizumab 200 mg","w":6,"p":55},{"d":"certolizumab","g":"certolizumab 200 mg","w":8,"p":65},{"d":"certolizumab","g":"certolizumab 200 mg","w":10,"p":71},{"d":"certolizumab","g":"certolizumab 200 mg","w":12,"p":74.5},{"d":"certolizumab","g":"certolizumab 200 mg","w":16,"p":77.3},{"d":"certolizumab","g":"certolizumab 200 mg","w":20,"p":78.3},{"d":"certolizumab","g":"certolizumab 200 mg","w":24,"p":78.8},
{"d":"etanercept","g":"etanercept 50 mg","w":0,"p":0},{"d":"etanercept","g":"etanercept 50 mg","w":2,"p":1},{"d":"etanercept","g":"etanercept 50 mg","w":3,"p":3.5},{"d":"etanercept","g":"etanercept 50 mg","w":4,"p":8.5},{"d":"etanercept","g":"etanercept 50 mg","w":6,"p":25.5},{"d":"etanercept","g":"etanercept 50 mg","w":8,"p":37.3},{"d":"etanercept","g":"etanercept 50 mg","w":10,"p":45.8},{"d":"etanercept","g":"etanercept 50 mg","w":12,"p":51},{"d":"etanercept","g":"etanercept 50 mg","w":14,"p":54.2},{"d":"etanercept","g":"etanercept 50 mg","w":16,"p":56.2},{"d":"etanercept","g":"etanercept 50 mg","w":20,"p":57.9},{"d":"etanercept","g":"etanercept 50 mg","w":24,"p":58.4},
{"d":"etanercept","g":"etanercept 25 mg","w":0,"p":0},{"d":"etanercept","g":"etanercept 25 mg","w":2,"p":1},{"d":"etanercept","g":"etanercept 25 mg","w":3,"p":2.5},{"d":"etanercept","g":"etanercept 25 mg","w":4,"p":5.2},{"d":"etanercept","g":"etanercept 25 mg","w":6,"p":13.1},{"d":"etanercept","g":"etanercept 25 mg","w":8,"p":20.9},{"d":"etanercept","g":"etanercept 25 mg","w":10,"p":27.5},{"d":"etanercept","g":"etanercept 25 mg","w":12,"p":32.7},{"d":"etanercept","g":"etanercept 25 mg","w":14,"p":35.9},{"d":"etanercept","g":"etanercept 25 mg","w":16,"p":37.9},{"d":"etanercept","g":"etanercept 25 mg","w":20,"p":39.9},{"d":"etanercept","g":"etanercept 25 mg","w":24,"p":40.5},
{"d":"infliximab","g":"infliximab 5 mg/kg","w":0,"p":-0.5},{"d":"infliximab","g":"infliximab 5 mg/kg","w":1,"p":1.3},{"d":"infliximab","g":"infliximab 5 mg/kg","w":2,"p":6.5},{"d":"infliximab","g":"infliximab 5 mg/kg","w":3,"p":20.3},{"d":"infliximab","g":"infliximab 5 mg/kg","w":4,"p":37.9},{"d":"infliximab","g":"infliximab 5 mg/kg","w":5,"p":51},{"d":"infliximab","g":"infliximab 5 mg/kg","w":6,"p":59.5},{"d":"infliximab","g":"infliximab 5 mg/kg","w":8,"p":69.3},{"d":"infliximab","g":"infliximab 5 mg/kg","w":10,"p":74.1},{"d":"infliximab","g":"infliximab 5 mg/kg","w":12,"p":76.5},{"d":"infliximab","g":"infliximab 5 mg/kg","w":16,"p":78.4},{"d":"infliximab","g":"infliximab 5 mg/kg","w":20,"p":79.1},{"d":"infliximab","g":"infliximab 5 mg/kg","w":24,"p":79.3},
{"d":"infliximab","g":"infliximab 3 mg/kg","w":0,"p":-0.5},{"d":"infliximab","g":"infliximab 3 mg/kg","w":1,"p":1},{"d":"infliximab","g":"infliximab 3 mg/kg","w":2,"p":5.5},{"d":"infliximab","g":"infliximab 3 mg/kg","w":3,"p":18},{"d":"infliximab","g":"infliximab 3 mg/kg","w":4,"p":35},{"d":"infliximab","g":"infliximab 3 mg/kg","w":5,"p":48},{"d":"infliximab","g":"infliximab 3 mg/kg","w":6,"p":56.5},{"d":"infliximab","g":"infliximab 3 mg/kg","w":8,"p":66.5},{"d":"infliximab","g":"infliximab 3 mg/kg","w":10,"p":71.5},{"d":"infliximab","g":"infliximab 3 mg/kg","w":12,"p":74},{"d":"infliximab","g":"infliximab 3 mg/kg","w":16,"p":76},{"d":"infliximab","g":"infliximab 3 mg/kg","w":20,"p":76.6},{"d":"infliximab","g":"infliximab 3 mg/kg","w":24,"p":76.7},
{"d":"ixekizumab","g":"ixekizumab 150 mg","w":0,"p":0},{"d":"ixekizumab","g":"ixekizumab 150 mg","w":1,"p":4.6},{"d":"ixekizumab","g":"ixekizumab 150 mg","w":2,"p":22.9},{"d":"ixekizumab","g":"ixekizumab 150 mg","w":3,"p":43.8},{"d":"ixekizumab","g":"ixekizumab 150 mg","w":4,"p":59.5},{"d":"ixekizumab","g":"ixekizumab 150 mg","w":5,"p":68.6},{"d":"ixekizumab","g":"ixekizumab 150 mg","w":6,"p":74.5},{"d":"ixekizumab","g":"ixekizumab 150 mg","w":8,"p":80.4},{"d":"ixekizumab","g":"ixekizumab 150 mg","w":10,"p":83.7},{"d":"ixekizumab","g":"ixekizumab 150 mg","w":12,"p":85.4},{"d":"ixekizumab","g":"ixekizumab 150 mg","w":16,"p":86.7},{"d":"ixekizumab","g":"ixekizumab 150 mg","w":20,"p":87.3},{"d":"ixekizumab","g":"ixekizumab 150 mg","w":24,"p":87.6},
{"d":"ixekizumab","g":"ixekizumab 80 mg","w":0,"p":0},{"d":"ixekizumab","g":"ixekizumab 80 mg","w":1,"p":2.5},{"d":"ixekizumab","g":"ixekizumab 80 mg","w":2,"p":19},{"d":"ixekizumab","g":"ixekizumab 80 mg","w":3,"p":38.6},{"d":"ixekizumab","g":"ixekizumab 80 mg","w":4,"p":54.9},{"d":"ixekizumab","g":"ixekizumab 80 mg","w":5,"p":64.7},{"d":"ixekizumab","g":"ixekizumab 80 mg","w":6,"p":70.6},{"d":"ixekizumab","g":"ixekizumab 80 mg","w":8,"p":77.1},{"d":"ixekizumab","g":"ixekizumab 80 mg","w":10,"p":80.7},{"d":"ixekizumab","g":"ixekizumab 80 mg","w":12,"p":82.4},{"d":"ixekizumab","g":"ixekizumab 80 mg","w":16,"p":83.9},{"d":"ixekizumab","g":"ixekizumab 80 mg","w":20,"p":84.6},{"d":"ixekizumab","g":"ixekizumab 80 mg","w":24,"p":84.7},
{"d":"secukinumab","g":"secukinumab 300 mg","w":0,"p":0},{"d":"secukinumab","g":"secukinumab 300 mg","w":1,"p":1.3},{"d":"secukinumab","g":"secukinumab 300 mg","w":2,"p":5.9},{"d":"secukinumab","g":"secukinumab 300 mg","w":3,"p":15.7},{"d":"secukinumab","g":"secukinumab 300 mg","w":4,"p":33.4},{"d":"secukinumab","g":"secukinumab 300 mg","w":5,"p":51.1},{"d":"secukinumab","g":"secukinumab 300 mg","w":6,"p":62.9},{"d":"secukinumab","g":"secukinumab 300 mg","w":8,"p":74},{"d":"secukinumab","g":"secukinumab 300 mg","w":10,"p":80},{"d":"secukinumab","g":"secukinumab 300 mg","w":12,"p":82.8},{"d":"secukinumab","g":"secukinumab 300 mg","w":16,"p":85.2},{"d":"secukinumab","g":"secukinumab 300 mg","w":20,"p":85.8},{"d":"secukinumab","g":"secukinumab 300 mg","w":24,"p":86.2},
{"d":"secukinumab","g":"secukinumab 150 mg","w":0,"p":0},{"d":"secukinumab","g":"secukinumab 150 mg","w":1,"p":1},{"d":"secukinumab","g":"secukinumab 150 mg","w":2,"p":4.6},{"d":"secukinumab","g":"secukinumab 150 mg","w":3,"p":13.8},{"d":"secukinumab","g":"secukinumab 150 mg","w":4,"p":25.6},{"d":"secukinumab","g":"secukinumab 150 mg","w":5,"p":40},{"d":"secukinumab","g":"secukinumab 150 mg","w":6,"p":49.8},{"d":"secukinumab","g":"secukinumab 150 mg","w":8,"p":60.9},{"d":"secukinumab","g":"secukinumab 150 mg","w":10,"p":67.5},{"d":"secukinumab","g":"secukinumab 150 mg","w":12,"p":70.1},{"d":"secukinumab","g":"secukinumab 150 mg","w":16,"p":73},{"d":"secukinumab","g":"secukinumab 150 mg","w":20,"p":74},{"d":"secukinumab","g":"secukinumab 150 mg","w":24,"p":74.6},
{"d":"ustekinumab","g":"ustekinumab 90 mg","w":0,"p":0},{"d":"ustekinumab","g":"ustekinumab 90 mg","w":2,"p":1.3},{"d":"ustekinumab","g":"ustekinumab 90 mg","w":3,"p":7.2},{"d":"ustekinumab","g":"ustekinumab 90 mg","w":4,"p":13.8},{"d":"ustekinumab","g":"ustekinumab 90 mg","w":5,"p":25.6},{"d":"ustekinumab","g":"ustekinumab 90 mg","w":6,"p":37.4},{"d":"ustekinumab","g":"ustekinumab 90 mg","w":8,"p":54.4},{"d":"ustekinumab","g":"ustekinumab 90 mg","w":10,"p":64.9},{"d":"ustekinumab","g":"ustekinumab 90 mg","w":12,"p":71.2},{"d":"ustekinumab","g":"ustekinumab 90 mg","w":16,"p":76.4},{"d":"ustekinumab","g":"ustekinumab 90 mg","w":20,"p":78.2},{"d":"ustekinumab","g":"ustekinumab 90 mg","w":24,"p":79},
{"d":"ustekinumab","g":"ustekinumab 45 mg","w":0,"p":0},{"d":"ustekinumab","g":"ustekinumab 45 mg","w":2,"p":1},{"d":"ustekinumab","g":"ustekinumab 45 mg","w":3,"p":6},{"d":"ustekinumab","g":"ustekinumab 45 mg","w":4,"p":12.5},{"d":"ustekinumab","g":"ustekinumab 45 mg","w":5,"p":22.9},{"d":"ustekinumab","g":"ustekinumab 45 mg","w":6,"p":34.7},{"d":"ustekinumab","g":"ustekinumab 45 mg","w":8,"p":51.1},{"d":"ustekinumab","g":"ustekinumab 45 mg","w":10,"p":62},{"d":"ustekinumab","g":"ustekinumab 45 mg","w":12,"p":68.2},{"d":"ustekinumab","g":"ustekinumab 45 mg","w":16,"p":73.4},{"d":"ustekinumab","g":"ustekinumab 45 mg","w":20,"p":74.7},{"d":"ustekinumab","g":"ustekinumab 45 mg","w":24,"p":75.4},
{"d":"placebo","g":"placebo","w":0,"p":0},{"d":"placebo","g":"placebo","w":2,"p":1},{"d":"placebo","g":"placebo","w":4,"p":2.5},{"d":"placebo","g":"placebo","w":6,"p":3.7},{"d":"placebo","g":"placebo","w":8,"p":4.5},{"d":"placebo","g":"placebo","w":10,"p":5.1},{"d":"placebo","g":"placebo","w":12,"p":5.5},{"d":"placebo","g":"placebo","w":16,"p":5.8},{"d":"placebo","g":"placebo","w":20,"p":5.9},{"d":"placebo","g":"placebo","w":24,"p":5.9}
]
},
"vconcat":[
{"title":{"text":"Oral Agents","offset":4},"spacing":12.7,"hconcat":[
 {"spacing":0,"vconcat":[
  {"width":290.5,"height":38,"view":{"fill":"#D9D9D9","stroke":null},"data":{"values":[{"d":"apremilast"}]},"mark":{"type":"text","fontSize":17,"color":"#1A1A1A"},"encoding":{"text":{"field":"d"}}},
  {"width":290.5,"height":271,"resolve":{"axis":{"x":"independent","y":"independent"}},"layer":[
   {"data":{"name":"pts"},"transform":[{"filter":"datum.d=='apremilast'"}],"mark":{"type":"circle","opacity":0.5,"clip":true},"encoding":{"x":{"field":"w","type":"quantitative","scale":{"domain":[-1.2,25.2],"nice":false,"zero":false},"axis":{"orient":"bottom","values":[0,4,8,12,16,24],"grid":true,"gridWidth":1.8,"title":null}},"y":{"field":"p","type":"quantitative","scale":{"domain":[-5,105],"nice":false,"zero":false},"axis":{"orient":"left","values":[0,25,50,75,100],"grid":true,"gridWidth":1.8,"title":"PASI75 (%)"}},"color":{"field":"g","type":"nominal"},"size":{"field":"n","type":"quantitative","scale":{"domain":[0,100],"range":[0,900]}}}},
   {"data":{"name":"crv"},"transform":[{"filter":"datum.d=='apremilast'"}],"mark":{"type":"line","interpolate":"monotone","strokeWidth":1.6},"encoding":{"x":{"field":"w","type":"quantitative","axis":{"orient":"top","values":[2,6,10,14,20],"grid":true,"gridWidth":0.9,"labels":false,"ticks":false,"title":null}},"y":{"field":"p","type":"quantitative","axis":{"orient":"right","values":[12.5,37.5,62.5,87.5],"grid":true,"gridWidth":0.9,"labels":false,"ticks":false,"title":null}},"color":{"field":"g","type":"nominal"}}},
   {"data":{"values":[{}]},"mark":{"type":"rule","strokeDash":[8,4],"strokeWidth":1.8,"color":"#1A1A1A"},"encoding":{"x":{"datum":12,"type":"quantitative","axis":null}}},
   {"data":{"values":[{}]},"mark":{"type":"text","align":"left","baseline":"middle","fontSize":16,"color":"#C27BF5"},"encoding":{"x":{"datum":0.7,"type":"quantitative","axis":null},"y":{"datum":100,"type":"quantitative","axis":null},"text":{"value":"30 mg"}}},
   {"data":{"values":[{}]},"mark":{"type":"text","align":"left","baseline":"middle","fontSize":16,"color":"#00BFC4"},"encoding":{"x":{"datum":0.7,"type":"quantitative","axis":null},"y":{"datum":89.2,"type":"quantitative","axis":null},"text":{"value":"20 mg"}}}
  ]}
 ]},
 {"spacing":0,"vconcat":[
  {"width":290.5,"height":38,"view":{"fill":"#D9D9D9","stroke":null},"data":{"values":[{"d":"methotrexate"}]},"mark":{"type":"text","fontSize":17,"color":"#1A1A1A"},"encoding":{"text":{"field":"d"}}},
  {"width":290.5,"height":271,"resolve":{"axis":{"x":"independent","y":"independent"}},"layer":[
   {"data":{"name":"pts"},"transform":[{"filter":"datum.d=='methotrexate'"}],"mark":{"type":"circle","opacity":0.5,"clip":true},"encoding":{"x":{"field":"w","type":"quantitative","scale":{"domain":[-1.2,25.2],"nice":false,"zero":false},"axis":{"orient":"bottom","values":[0,4,8,12,16,24],"grid":true,"gridWidth":1.8,"title":"Week"}},"y":{"field":"p","type":"quantitative","scale":{"domain":[-5,105],"nice":false,"zero":false},"axis":{"orient":"left","values":[0,25,50,75,100],"grid":true,"gridWidth":1.8,"labels":false,"ticks":false,"title":null}},"color":{"field":"g","type":"nominal"},"size":{"field":"n","type":"quantitative","scale":{"domain":[0,100],"range":[0,900]}}}},
   {"data":{"name":"crv"},"transform":[{"filter":"datum.d=='methotrexate'"}],"mark":{"type":"line","interpolate":"monotone","strokeWidth":1.6},"encoding":{"x":{"field":"w","type":"quantitative","axis":{"orient":"top","values":[2,6,10,14,20],"grid":true,"gridWidth":0.9,"labels":false,"ticks":false,"title":null}},"y":{"field":"p","type":"quantitative","axis":{"orient":"right","values":[12.5,37.5,62.5,87.5],"grid":true,"gridWidth":0.9,"labels":false,"ticks":false,"title":null}},"color":{"field":"g","type":"nominal"}}},
   {"data":{"values":[{}]},"mark":{"type":"rule","strokeDash":[8,4],"strokeWidth":1.8,"color":"#1A1A1A"},"encoding":{"x":{"datum":12,"type":"quantitative","axis":null}}},
   {"data":{"values":[{}]},"mark":{"type":"text","align":"left","baseline":"middle","fontSize":16,"color":"#10BEC4"},"encoding":{"x":{"datum":0.7,"type":"quantitative","axis":null},"y":{"datum":100,"type":"quantitative","axis":null},"text":{"value":"20 mg"}}}
  ]}
 ]},
 {"spacing":0,"vconcat":[
  {"width":290.5,"height":38,"view":{"fill":"#D9D9D9","stroke":null},"data":{"values":[{"d":"tofacitinib"}]},"mark":{"type":"text","fontSize":17,"color":"#1A1A1A"},"encoding":{"text":{"field":"d"}}},
  {"width":290.5,"height":271,"resolve":{"axis":{"x":"independent","y":"independent"}},"layer":[
   {"data":{"name":"pts"},"transform":[{"filter":"datum.d=='tofacitinib'"}],"mark":{"type":"circle","opacity":0.5,"clip":true},"encoding":{"x":{"field":"w","type":"quantitative","scale":{"domain":[-1.2,25.2],"nice":false,"zero":false},"axis":{"orient":"bottom","values":[0,4,8,12,16,24],"grid":true,"gridWidth":1.8,"title":null}},"y":{"field":"p","type":"quantitative","scale":{"domain":[-5,105],"nice":false,"zero":false},"axis":{"orient":"left","values":[0,25,50,75,100],"grid":true,"gridWidth":1.8,"labels":false,"ticks":false,"title":null}},"color":{"field":"g","type":"nominal"},"size":{"field":"n","type":"quantitative","scale":{"domain":[0,100],"range":[0,900]}}}},
   {"data":{"name":"crv"},"transform":[{"filter":"datum.d=='tofacitinib'"}],"mark":{"type":"line","interpolate":"monotone","strokeWidth":1.6},"encoding":{"x":{"field":"w","type":"quantitative","axis":{"orient":"top","values":[2,6,10,14,20],"grid":true,"gridWidth":0.9,"labels":false,"ticks":false,"title":null}},"y":{"field":"p","type":"quantitative","axis":{"orient":"right","values":[12.5,37.5,62.5,87.5],"grid":true,"gridWidth":0.9,"labels":false,"ticks":false,"title":null}},"color":{"field":"g","type":"nominal"}}},
   {"data":{"values":[{}]},"mark":{"type":"rule","strokeDash":[8,4],"strokeWidth":1.8,"color":"#1A1A1A"},"encoding":{"x":{"datum":12,"type":"quantitative","axis":null}}},
   {"data":{"values":[{}]},"mark":{"type":"text","align":"left","baseline":"middle","fontSize":16,"color":"#78AD10"},"encoding":{"x":{"datum":0.7,"type":"quantitative","axis":null},"y":{"datum":100,"type":"quantitative","axis":null},"text":{"value":"10 mg"}}},
   {"data":{"values":[{}]},"mark":{"type":"text","align":"left","baseline":"middle","fontSize":16,"color":"#F8766D"},"encoding":{"x":{"datum":0.7,"type":"quantitative","axis":null},"y":{"datum":89.2,"type":"quantitative","axis":null},"text":{"value":"5 mg"}}}
  ]}
 ]}
]},
{"title":{"text":"Injectable/Infusible Agents","offset":12.3},"spacing":10.8,"vconcat":[
 {"spacing":12.5,"hconcat":[
  {"spacing":0,"vconcat":[
   {"width":277.5,"height":36,"view":{"fill":"#D9D9D9","stroke":null},"data":{"values":[{"d":"adalimumab"}]},"mark":{"type":"text","fontSize":17,"color":"#1A1A1A"},"encoding":{"text":{"field":"d"}}},
   {"width":277.5,"height":280.7,"resolve":{"axis":{"x":"independent","y":"independent"}},"layer":[
    {"data":{"name":"pts"},"transform":[{"filter":"datum.d=='adalimumab'"}],"mark":{"type":"circle","opacity":0.5,"clip":true},"encoding":{"x":{"field":"w","type":"quantitative","scale":{"domain":[-1.2,25.2],"nice":false,"zero":false},"axis":{"orient":"bottom","values":[0,4,8,12,16,24],"grid":true,"gridWidth":1.8,"labels":false,"ticks":false,"title":null}},"y":{"field":"p","type":"quantitative","scale":{"domain":[-5,105],"nice":false,"zero":false},"axis":{"orient":"left","values":[0,25,50,75,100],"grid":true,"gridWidth":1.8,"title":null}},"color":{"field":"g","type":"nominal"},"size":{"field":"n","type":"quantitative","scale":{"domain":[0,100],"range":[0,900]}}}},
    {"data":{"name":"crv"},"transform":[{"filter":"datum.d=='adalimumab'"}],"mark":{"type":"line","interpolate":"monotone","strokeWidth":1.6},"encoding":{"x":{"field":"w","type":"quantitative","axis":{"orient":"top","values":[2,6,10,14,20],"grid":true,"gridWidth":0.9,"labels":false,"ticks":false,"title":null}},"y":{"field":"p","type":"quantitative","axis":{"orient":"right","values":[12.5,37.5,62.5,87.5],"grid":true,"gridWidth":0.9,"labels":false,"ticks":false,"title":null}},"color":{"field":"g","type":"nominal"}}},
    {"data":{"values":[{}]},"mark":{"type":"rule","strokeDash":[8,4],"strokeWidth":1.8,"color":"#1A1A1A"},"encoding":{"x":{"datum":12,"type":"quantitative","axis":null}}},
    {"data":{"values":[{}]},"mark":{"type":"text","align":"left","baseline":"middle","fontSize":16,"color":"#1CBDB8"},"encoding":{"x":{"datum":0.6,"type":"quantitative","axis":null},"y":{"datum":99,"type":"quantitative","axis":null},"text":{"value":"80 mg"}}},
    {"data":{"values":[{}]},"mark":{"type":"text","align":"left","baseline":"middle","fontSize":16,"color":"#53B400"},"encoding":{"x":{"datum":0.6,"type":"quantitative","axis":null},"y":{"datum":89.4,"type":"quantitative","axis":null},"text":{"value":"40 mg"}}}
   ]}
  ]},
  {"spacing":0,"vconcat":[
   {"width":277.5,"height":36,"view":{"fill":"#D9D9D9","stroke":null},"data":{"values":[{"d":"alefacept"}]},"mark":{"type":"text","fontSize":17,"color":"#1A1A1A"},"encoding":{"text":{"field":"d"}}},
   {"width":277.5,"height":280.7,"resolve":{"axis":{"x":"independent","y":"independent"}},"layer":[
    {"data":{"name":"pts"},"transform":[{"filter":"datum.d=='alefacept'"}],"mark":{"type":"circle","opacity":0.5,"clip":true},"encoding":{"x":{"field":"w","type":"quantitative","scale":{"domain":[-1.2,25.2],"nice":false,"zero":false},"axis":{"orient":"bottom","values":[0,4,8,12,16,24],"grid":true,"gridWidth":1.8,"labels":false,"ticks":false,"title":null}},"y":{"field":"p","type":"quantitative","scale":{"domain":[-5,105],"nice":false,"zero":false},"axis":{"orient":"left","values":[0,25,50,75,100],"grid":true,"gridWidth":1.8,"labels":false,"ticks":false,"title":null}},"color":{"field":"g","type":"nominal"},"size":{"field":"n","type":"quantitative","scale":{"domain":[0,100],"range":[0,900]}}}},
    {"data":{"name":"crv"},"transform":[{"filter":"datum.d=='alefacept'"}],"mark":{"type":"line","interpolate":"monotone","strokeWidth":1.6},"encoding":{"x":{"field":"w","type":"quantitative","axis":{"orient":"top","values":[2,6,10,14,20],"grid":true,"gridWidth":0.9,"labels":false,"ticks":false,"title":null}},"y":{"field":"p","type":"quantitative","axis":{"orient":"right","values":[12.5,37.5,62.5,87.5],"grid":true,"gridWidth":0.9,"labels":false,"ticks":false,"title":null}},"color":{"field":"g","type":"nominal"}}},
    {"data":{"values":[{}]},"mark":{"type":"rule","strokeDash":[8,4],"strokeWidth":1.8,"color":"#1A1A1A"},"encoding":{"x":{"datum":12,"type":"quantitative","axis":null}}},
    {"data":{"values":[{}]},"mark":{"type":"text","align":"left","baseline":"middle","fontSize":16,"color":"#ADA000"},"encoding":{"x":{"datum":0.6,"type":"quantitative","axis":null},"y":{"datum":99,"type":"quantitative","axis":null},"text":{"value":"15 mg"}}},
    {"data":{"values":[{}]},"mark":{"type":"text","align":"left","baseline":"middle","fontSize":16,"color":"#C89B14"},"encoding":{"x":{"datum":0.6,"type":"quantitative","axis":null},"y":{"datum":89.4,"type":"quantitative","axis":null},"text":{"value":"10 mg"}}}
   ]}
  ]},
  {"spacing":0,"vconcat":[
   {"width":277.5,"height":36,"view":{"fill":"#D9D9D9","stroke":null},"data":{"values":[{"d":"briakinumab"}]},"mark":{"type":"text","fontSize":17,"color":"#1A1A1A"},"encoding":{"text":{"field":"d"}}},
   {"width":277.5,"height":280.7,"resolve":{"axis":{"x":"independent","y":"independent"}},"layer":[
    {"data":{"name":"pts"},"transform":[{"filter":"datum.d=='briakinumab'"}],"mark":{"type":"circle","opacity":0.5,"clip":true},"encoding":{"x":{"field":"w","type":"quantitative","scale":{"domain":[-1.2,25.2],"nice":false,"zero":false},"axis":{"orient":"bottom","values":[0,4,8,12,16,24],"grid":true,"gridWidth":1.8,"labels":false,"ticks":false,"title":null}},"y":{"field":"p","type":"quantitative","scale":{"domain":[-5,105],"nice":false,"zero":false},"axis":{"orient":"left","values":[0,25,50,75,100],"grid":true,"gridWidth":1.8,"labels":false,"ticks":false,"title":null}},"color":{"field":"g","type":"nominal"},"size":{"field":"n","type":"quantitative","scale":{"domain":[0,100],"range":[0,900]}}}},
    {"data":{"name":"crv"},"transform":[{"filter":"datum.d=='briakinumab'"}],"mark":{"type":"line","interpolate":"monotone","strokeWidth":1.6},"encoding":{"x":{"field":"w","type":"quantitative","axis":{"orient":"top","values":[2,6,10,14,20],"grid":true,"gridWidth":0.9,"labels":false,"ticks":false,"title":null}},"y":{"field":"p","type":"quantitative","axis":{"orient":"right","values":[12.5,37.5,62.5,87.5],"grid":true,"gridWidth":0.9,"labels":false,"ticks":false,"title":null}},"color":{"field":"g","type":"nominal"}}},
    {"data":{"values":[{}]},"mark":{"type":"rule","strokeDash":[8,4],"strokeWidth":1.8,"color":"#1A1A1A"},"encoding":{"x":{"datum":12,"type":"quantitative","axis":null}}},
    {"data":{"values":[{}]},"mark":{"type":"text","align":"left","baseline":"middle","fontSize":16,"color":"#DB70F4"},"encoding":{"x":{"datum":0.1,"type":"quantitative","axis":null},"y":{"datum":99,"type":"quantitative","axis":null},"text":{"value":"200 mg"}}},
    {"data":{"values":[{}]},"mark":{"type":"text","align":"left","baseline":"middle","fontSize":16,"color":"#12A9EE"},"encoding":{"x":{"datum":0.1,"type":"quantitative","axis":null},"y":{"datum":89.4,"type":"quantitative","axis":null},"text":{"value":"100 mg"}}}
   ]}
  ]},
  {"spacing":0,"vconcat":[
   {"width":277.5,"height":36,"view":{"fill":"#D9D9D9","stroke":null},"data":{"values":[{"d":"brodalumab"}]},"mark":{"type":"text","fontSize":17,"color":"#1A1A1A"},"encoding":{"text":{"field":"d"}}},
   {"width":277.5,"height":280.7,"resolve":{"axis":{"x":"independent","y":"independent"}},"layer":[
    {"data":{"name":"pts"},"transform":[{"filter":"datum.d=='brodalumab'"}],"mark":{"type":"circle","opacity":0.5,"clip":true},"encoding":{"x":{"field":"w","type":"quantitative","scale":{"domain":[-1.2,25.2],"nice":false,"zero":false},"axis":{"orient":"bottom","values":[0,4,8,12,16,24],"grid":true,"gridWidth":1.8,"labels":false,"ticks":false,"title":null}},"y":{"field":"p","type":"quantitative","scale":{"domain":[-5,105],"nice":false,"zero":false},"axis":{"orient":"left","values":[0,25,50,75,100],"grid":true,"gridWidth":1.8,"labels":false,"ticks":false,"title":null}},"color":{"field":"g","type":"nominal"},"size":{"field":"n","type":"quantitative","scale":{"domain":[0,100],"range":[0,900]}}}},
    {"data":{"name":"crv"},"transform":[{"filter":"datum.d=='brodalumab'"}],"mark":{"type":"line","interpolate":"monotone","strokeWidth":1.6},"encoding":{"x":{"field":"w","type":"quantitative","axis":{"orient":"top","values":[2,6,10,14,20],"grid":true,"gridWidth":0.9,"labels":false,"ticks":false,"title":null}},"y":{"field":"p","type":"quantitative","axis":{"orient":"right","values":[12.5,37.5,62.5,87.5],"grid":true,"gridWidth":0.9,"labels":false,"ticks":false,"title":null}},"color":{"field":"g","type":"nominal"}}},
    {"data":{"values":[{}]},"mark":{"type":"rule","strokeDash":[8,4],"strokeWidth":1.8,"color":"#1A1A1A"},"encoding":{"x":{"datum":12,"type":"quantitative","axis":null}}},
    {"data":{"values":[{}]},"mark":{"type":"text","align":"left","baseline":"middle","fontSize":16,"color":"#EE62D8"},"encoding":{"x":{"datum":0.1,"type":"quantitative","axis":null},"y":{"datum":99,"type":"quantitative","axis":null},"text":{"value":"210 mg"}}},
    {"data":{"values":[{}]},"mark":{"type":"text","align":"left","baseline":"middle","fontSize":16,"color":"#3AA0F0"},"encoding":{"x":{"datum":0.1,"type":"quantitative","axis":null},"y":{"datum":89.4,"type":"quantitative","axis":null},"text":{"value":"140 mg"}}}
   ]}
  ]}
 ]},
 {"spacing":12.5,"hconcat":[
  {"spacing":0,"vconcat":[
   {"width":277.5,"height":36,"view":{"fill":"#D9D9D9","stroke":null},"data":{"values":[{"d":"certolizumab"}]},"mark":{"type":"text","fontSize":17,"color":"#1A1A1A"},"encoding":{"text":{"field":"d"}}},
   {"width":277.5,"height":280.7,"resolve":{"axis":{"x":"independent","y":"independent"}},"layer":[
    {"data":{"name":"pts"},"transform":[{"filter":"datum.d=='certolizumab'"}],"mark":{"type":"circle","opacity":0.5,"clip":true},"encoding":{"x":{"field":"w","type":"quantitative","scale":{"domain":[-1.2,25.2],"nice":false,"zero":false},"axis":{"orient":"bottom","values":[0,4,8,12,16,24],"grid":true,"gridWidth":1.8,"labels":false,"ticks":false,"title":null}},"y":{"field":"p","type":"quantitative","scale":{"domain":[-5,105],"nice":false,"zero":false},"axis":{"orient":"left","values":[0,25,50,75,100],"grid":true,"gridWidth":1.8,"title":"PASI75 (%)"}},"color":{"field":"g","type":"nominal"},"size":{"field":"n","type":"quantitative","scale":{"domain":[0,100],"range":[0,900]}}}},
    {"data":{"name":"crv"},"transform":[{"filter":"datum.d=='certolizumab'"}],"mark":{"type":"line","interpolate":"monotone","strokeWidth":1.6},"encoding":{"x":{"field":"w","type":"quantitative","axis":{"orient":"top","values":[2,6,10,14,20],"grid":true,"gridWidth":0.9,"labels":false,"ticks":false,"title":null}},"y":{"field":"p","type":"quantitative","axis":{"orient":"right","values":[12.5,37.5,62.5,87.5],"grid":true,"gridWidth":0.9,"labels":false,"ticks":false,"title":null}},"color":{"field":"g","type":"nominal"}}},
    {"data":{"values":[{}]},"mark":{"type":"rule","strokeDash":[8,4],"strokeWidth":1.8,"color":"#1A1A1A"},"encoding":{"x":{"datum":12,"type":"quantitative","axis":null}}},
    {"data":{"values":[{}]},"mark":{"type":"text","align":"left","baseline":"middle","fontSize":16,"color":"#F45A80"},"encoding":{"x":{"datum":0.1,"type":"quantitative","axis":null},"y":{"datum":99,"type":"quantitative","axis":null},"text":{"value":"400 mg"}}},
    {"data":{"values":[{}]},"mark":{"type":"text","align":"left","baseline":"middle","fontSize":16,"color":"#C06EF5"},"encoding":{"x":{"datum":0.1,"type":"quantitative","axis":null},"y":{"datum":89.4,"type":"quantitative","axis":null},"text":{"value":"200 mg"}}}
   ]}
  ]},
  {"spacing":0,"vconcat":[
   {"width":277.5,"height":36,"view":{"fill":"#D9D9D9","stroke":null},"data":{"values":[{"d":"etanercept"}]},"mark":{"type":"text","fontSize":17,"color":"#1A1A1A"},"encoding":{"text":{"field":"d"}}},
   {"width":277.5,"height":280.7,"resolve":{"axis":{"x":"independent","y":"independent"}},"layer":[
    {"data":{"name":"pts"},"transform":[{"filter":"datum.d=='etanercept'"}],"mark":{"type":"circle","opacity":0.5,"clip":true},"encoding":{"x":{"field":"w","type":"quantitative","scale":{"domain":[-1.2,25.2],"nice":false,"zero":false},"axis":{"orient":"bottom","values":[0,4,8,12,16,24],"grid":true,"gridWidth":1.8,"labels":false,"ticks":false,"title":null}},"y":{"field":"p","type":"quantitative","scale":{"domain":[-5,105],"nice":false,"zero":false},"axis":{"orient":"left","values":[0,25,50,75,100],"grid":true,"gridWidth":1.8,"labels":false,"ticks":false,"title":null}},"color":{"field":"g","type":"nominal"},"size":{"field":"n","type":"quantitative","scale":{"domain":[0,100],"range":[0,900]}}}},
    {"data":{"name":"crv"},"transform":[{"filter":"datum.d=='etanercept'"}],"mark":{"type":"line","interpolate":"monotone","strokeWidth":1.6},"encoding":{"x":{"field":"w","type":"quantitative","axis":{"orient":"top","values":[2,6,10,14,20],"grid":true,"gridWidth":0.9,"labels":false,"ticks":false,"title":null}},"y":{"field":"p","type":"quantitative","axis":{"orient":"right","values":[12.5,37.5,62.5,87.5],"grid":true,"gridWidth":0.9,"labels":false,"ticks":false,"title":null}},"color":{"field":"g","type":"nominal"}}},
    {"data":{"values":[{}]},"mark":{"type":"rule","strokeDash":[8,4],"strokeWidth":1.8,"color":"#1A1A1A"},"encoding":{"x":{"datum":12,"type":"quantitative","axis":null}}},
    {"data":{"values":[{}]},"mark":{"type":"text","align":"left","baseline":"middle","fontSize":16,"color":"#10BF8C"},"encoding":{"x":{"datum":0.6,"type":"quantitative","axis":null},"y":{"datum":99,"type":"quantitative","axis":null},"text":{"value":"50 mg"}}},
    {"data":{"values":[{}]},"mark":{"type":"text","align":"left","baseline":"middle","fontSize":16,"color":"#9EAA10"},"encoding":{"x":{"datum":0.6,"type":"quantitative","axis":null},"y":{"datum":89.4,"type":"quantitative","axis":null},"text":{"value":"25 mg"}}}
   ]}
  ]},
  {"spacing":0,"vconcat":[
   {"width":277.5,"height":36,"view":{"fill":"#D9D9D9","stroke":null},"data":{"values":[{"d":"infliximab"}]},"mark":{"type":"text","fontSize":17,"color":"#1A1A1A"},"encoding":{"text":{"field":"d"}}},
   {"width":277.5,"height":280.7,"resolve":{"axis":{"x":"independent","y":"independent"}},"layer":[
    {"data":{"name":"pts"},"transform":[{"filter":"datum.d=='infliximab'"}],"mark":{"type":"circle","opacity":0.5,"clip":true},"encoding":{"x":{"field":"w","type":"quantitative","scale":{"domain":[-1.2,25.2],"nice":false,"zero":false},"axis":{"orient":"bottom","values":[0,4,8,12,16,24],"grid":true,"gridWidth":1.8,"labels":false,"ticks":false,"title":null}},"y":{"field":"p","type":"quantitative","scale":{"domain":[-5,105],"nice":false,"zero":false},"axis":{"orient":"left","values":[0,25,50,75,100],"grid":true,"gridWidth":1.8,"labels":false,"ticks":false,"title":null}},"color":{"field":"g","type":"nominal"},"size":{"field":"n","type":"quantitative","scale":{"domain":[0,100],"range":[0,900]}}}},
    {"data":{"name":"crv"},"transform":[{"filter":"datum.d=='infliximab'"}],"mark":{"type":"line","interpolate":"monotone","strokeWidth":1.6},"encoding":{"x":{"field":"w","type":"quantitative","axis":{"orient":"top","values":[2,6,10,14,20],"grid":true,"gridWidth":0.9,"labels":false,"ticks":false,"title":null}},"y":{"field":"p","type":"quantitative","axis":{"orient":"right","values":[12.5,37.5,62.5,87.5],"grid":true,"gridWidth":0.9,"labels":false,"ticks":false,"title":null}},"color":{"field":"g","type":"nominal"}}},
    {"data":{"values":[{}]},"mark":{"type":"rule","strokeDash":[8,4],"strokeWidth":1.8,"color":"#1A1A1A"},"encoding":{"x":{"datum":12,"type":"quantitative","axis":null}}},
    {"data":{"values":[{}]},"mark":{"type":"text","align":"left","baseline":"middle","fontSize":16,"color":"#E8882A"},"encoding":{"x":{"datum":0.1,"type":"quantitative","axis":null},"y":{"datum":99,"type":"quantitative","axis":null},"text":{"value":"5 mg/kg"}}},
    {"data":{"values":[{}]},"mark":{"type":"text","align":"left","baseline":"middle","fontSize":16,"color":"#F0706A"},"encoding":{"x":{"datum":0.1,"type":"quantitative","axis":null},"y":{"datum":89.4,"type":"quantitative","axis":null},"text":{"value":"3 mg/kg"}}}
   ]}
  ]},
  {"spacing":0,"vconcat":[
   {"width":277.5,"height":36,"view":{"fill":"#D9D9D9","stroke":null},"data":{"values":[{"d":"ixekizumab"}]},"mark":{"type":"text","fontSize":17,"color":"#1A1A1A"},"encoding":{"text":{"field":"d"}}},
   {"width":277.5,"height":280.7,"resolve":{"axis":{"x":"independent","y":"independent"}},"layer":[
    {"data":{"name":"pts"},"transform":[{"filter":"datum.d=='ixekizumab'"}],"mark":{"type":"circle","opacity":0.5,"clip":true},"encoding":{"x":{"field":"w","type":"quantitative","scale":{"domain":[-1.2,25.2],"nice":false,"zero":false},"axis":{"orient":"bottom","values":[0,4,8,12,16,24],"grid":true,"gridWidth":1.8,"labels":false,"ticks":false,"title":null}},"y":{"field":"p","type":"quantitative","scale":{"domain":[-5,105],"nice":false,"zero":false},"axis":{"orient":"left","values":[0,25,50,75,100],"grid":true,"gridWidth":1.8,"labels":false,"ticks":false,"title":null}},"color":{"field":"g","type":"nominal"},"size":{"field":"n","type":"quantitative","scale":{"domain":[0,100],"range":[0,900]}}}},
    {"data":{"name":"crv"},"transform":[{"filter":"datum.d=='ixekizumab'"}],"mark":{"type":"line","interpolate":"monotone","strokeWidth":1.6},"encoding":{"x":{"field":"w","type":"quantitative","axis":{"orient":"top","values":[2,6,10,14,20],"grid":true,"gridWidth":0.9,"labels":false,"ticks":false,"title":null}},"y":{"field":"p","type":"quantitative","axis":{"orient":"right","values":[12.5,37.5,62.5,87.5],"grid":true,"gridWidth":0.9,"labels":false,"ticks":false,"title":null}},"color":{"field":"g","type":"nominal"}}},
    {"data":{"values":[{}]},"mark":{"type":"rule","strokeDash":[8,4],"strokeWidth":1.8,"color":"#1A1A1A"},"encoding":{"x":{"datum":12,"type":"quantitative","axis":null}}},
    {"data":{"values":[{}]},"mark":{"type":"text","align":"left","baseline":"middle","fontSize":16,"color":"#9A8CF5"},"encoding":{"x":{"datum":0.1,"type":"quantitative","axis":null},"y":{"datum":99,"type":"quantitative","axis":null},"text":{"value":"150 mg"}}},
    {"data":{"values":[{}]},"mark":{"type":"text","align":"left","baseline":"middle","fontSize":16,"color":"#10B8A0"},"encoding":{"x":{"datum":0.4,"type":"quantitative","axis":null},"y":{"datum":89.4,"type":"quantitative","axis":null},"text":{"value":"80 mg"}}}
   ]}
  ]}
 ]},
 {"spacing":73.7,"hconcat":[
  {"spacing":12.5,"hconcat":[
   {"spacing":0,"vconcat":[
    {"width":277.5,"height":36,"view":{"fill":"#D9D9D9","stroke":null},"data":{"values":[{"d":"secukinumab"}]},"mark":{"type":"text","fontSize":17,"color":"#1A1A1A"},"encoding":{"text":{"field":"d"}}},
    {"width":277.5,"height":280.7,"resolve":{"axis":{"x":"independent","y":"independent"}},"layer":[
     {"data":{"name":"pts"},"transform":[{"filter":"datum.d=='secukinumab'"}],"mark":{"type":"circle","opacity":0.5,"clip":true},"encoding":{"x":{"field":"w","type":"quantitative","scale":{"domain":[-1.2,25.2],"nice":false,"zero":false},"axis":{"orient":"bottom","values":[0,4,8,12,16,24],"grid":true,"gridWidth":1.8,"title":null}},"y":{"field":"p","type":"quantitative","scale":{"domain":[-5,105],"nice":false,"zero":false},"axis":{"orient":"left","values":[0,25,50,75,100],"grid":true,"gridWidth":1.8,"title":null}},"color":{"field":"g","type":"nominal"},"size":{"field":"n","type":"quantitative","scale":{"domain":[0,100],"range":[0,900]}}}},
     {"data":{"name":"crv"},"transform":[{"filter":"datum.d=='secukinumab'"}],"mark":{"type":"line","interpolate":"monotone","strokeWidth":1.6},"encoding":{"x":{"field":"w","type":"quantitative","axis":{"orient":"top","values":[2,6,10,14,20],"grid":true,"gridWidth":0.9,"labels":false,"ticks":false,"title":null}},"y":{"field":"p","type":"quantitative","axis":{"orient":"right","values":[12.5,37.5,62.5,87.5],"grid":true,"gridWidth":0.9,"labels":false,"ticks":false,"title":null}},"color":{"field":"g","type":"nominal"}}},
     {"data":{"values":[{}]},"mark":{"type":"rule","strokeDash":[8,4],"strokeWidth":1.8,"color":"#1A1A1A"},"encoding":{"x":{"datum":12,"type":"quantitative","axis":null}}},
     {"data":{"values":[{}]},"mark":{"type":"text","align":"left","baseline":"middle","fontSize":16,"color":"#F560B5"},"encoding":{"x":{"datum":0.1,"type":"quantitative","axis":null},"y":{"datum":99,"type":"quantitative","axis":null},"text":{"value":"300 mg"}}},
     {"data":{"values":[{}]},"mark":{"type":"text","align":"left","baseline":"middle","fontSize":16,"color":"#958EF8"},"encoding":{"x":{"datum":0.1,"type":"quantitative","axis":null},"y":{"datum":89.4,"type":"quantitative","axis":null},"text":{"value":"150 mg"}}}
    ]}
   ]},
   {"spacing":0,"vconcat":[
    {"width":277.5,"height":36,"view":{"fill":"#D9D9D9","stroke":null},"data":{"values":[{"d":"ustekinumab"}]},"mark":{"type":"text","fontSize":17,"color":"#1A1A1A"},"encoding":{"text":{"field":"d"}}},
    {"width":277.5,"height":280.7,"resolve":{"axis":{"x":"independent","y":"independent"}},"layer":[
     {"data":{"name":"pts"},"transform":[{"filter":"datum.d=='ustekinumab'"}],"mark":{"type":"circle","opacity":0.5,"clip":true},"encoding":{"x":{"field":"w","type":"quantitative","scale":{"domain":[-1.2,25.2],"nice":false,"zero":false},"axis":{"orient":"bottom","values":[0,4,8,12,16,24],"grid":true,"gridWidth":1.8,"title":"Week","titleX":283,"titleAlign":"center"}},"y":{"field":"p","type":"quantitative","scale":{"domain":[-5,105],"nice":false,"zero":false},"axis":{"orient":"left","values":[0,25,50,75,100],"grid":true,"gridWidth":1.8,"labels":false,"ticks":false,"title":null}},"color":{"field":"g","type":"nominal"},"size":{"field":"n","type":"quantitative","scale":{"domain":[0,100],"range":[0,900]}}}},
     {"data":{"name":"crv"},"transform":[{"filter":"datum.d=='ustekinumab'"}],"mark":{"type":"line","interpolate":"monotone","strokeWidth":1.6},"encoding":{"x":{"field":"w","type":"quantitative","axis":{"orient":"top","values":[2,6,10,14,20],"grid":true,"gridWidth":0.9,"labels":false,"ticks":false,"title":null}},"y":{"field":"p","type":"quantitative","axis":{"orient":"right","values":[12.5,37.5,62.5,87.5],"grid":true,"gridWidth":0.9,"labels":false,"ticks":false,"title":null}},"color":{"field":"g","type":"nominal"}}},
     {"data":{"values":[{}]},"mark":{"type":"rule","strokeDash":[8,4],"strokeWidth":1.8,"color":"#1A1A1A"},"encoding":{"x":{"datum":12,"type":"quantitative","axis":null}}},
     {"data":{"values":[{}]},"mark":{"type":"text","align":"left","baseline":"middle","fontSize":16,"color":"#16B8D8"},"encoding":{"x":{"datum":0.6,"type":"quantitative","axis":null},"y":{"datum":99,"type":"quantitative","axis":null},"text":{"value":"90 mg"}}},
     {"data":{"values":[{}]},"mark":{"type":"text","align":"left","baseline":"middle","fontSize":16,"color":"#14B876"},"encoding":{"x":{"datum":0.6,"type":"quantitative","axis":null},"y":{"datum":89.4,"type":"quantitative","axis":null},"text":{"value":"45 mg"}}}
    ]}
   ]}
  ]},
  {"spacing":0,"vconcat":[
   {"width":273,"height":10,"view":{"fill":"#FFFFFF","stroke":null},"data":{"values":[{}]},"mark":{"type":"text"},"encoding":{"text":{"value":""}}},
   {"width":273,"height":36,"view":{"fill":"#D9D9D9","stroke":null},"data":{"values":[{"d":"placebo"}]},"mark":{"type":"text","fontSize":17,"color":"#1A1A1A"},"encoding":{"text":{"field":"d"}}},
   {"width":273,"height":287,"resolve":{"axis":{"x":"independent","y":"independent"}},"layer":[
    {"data":{"name":"pts"},"transform":[{"filter":"datum.d=='placebo'"}],"mark":{"type":"circle","opacity":0.5,"clip":true},"encoding":{"x":{"field":"w","type":"quantitative","scale":{"domain":[-1.2,25.2],"nice":false,"zero":false},"axis":{"orient":"bottom","values":[0,4,8,12,16,24],"grid":true,"gridWidth":1.8,"title":"Week","titlePadding":3}},"y":{"field":"p","type":"quantitative","scale":{"domain":[-5,105],"nice":false,"zero":false},"axis":{"orient":"left","values":[0,25,50,75,100],"grid":true,"gridWidth":1.8,"title":"PASI75 (%)"}},"color":{"field":"g","type":"nominal"},"size":{"field":"n","type":"quantitative","scale":{"domain":[0,100],"range":[0,900]}}}},
    {"data":{"name":"crv"},"transform":[{"filter":"datum.d=='placebo'"}],"mark":{"type":"line","interpolate":"monotone","strokeWidth":1.8},"encoding":{"x":{"field":"w","type":"quantitative","axis":{"orient":"top","values":[2,6,10,14,20],"grid":true,"gridWidth":0.9,"labels":false,"ticks":false,"title":null}},"y":{"field":"p","type":"quantitative","axis":{"orient":"right","values":[12.5,37.5,62.5,87.5],"grid":true,"gridWidth":0.9,"labels":false,"ticks":false,"title":null}},"color":{"field":"g","type":"nominal"}}},
    {"data":{"values":[{}]},"mark":{"type":"rule","strokeDash":[8,4],"strokeWidth":1.8,"color":"#1A1A1A"},"encoding":{"x":{"datum":12,"type":"quantitative","axis":null}}}
   ]}
  ]}
 ]}
]}
],
"center":true,
"spacing":42.8
}
